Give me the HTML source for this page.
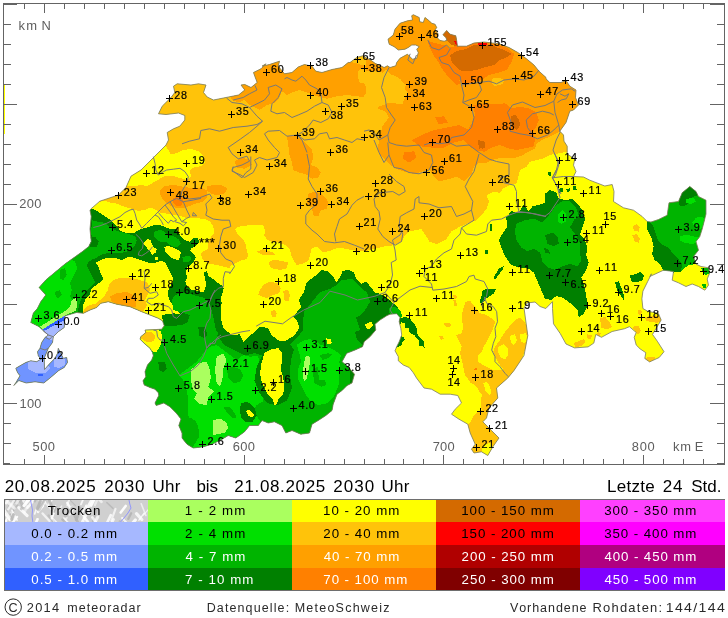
<!DOCTYPE html>
<html lang="de"><head><meta charset="utf-8"><title>meteoradar - Niederschlagssumme 24 Std.</title>
<style>
html,body{margin:0;padding:0;background:#fff;}
body{width:728px;height:618px;overflow:hidden;position:relative;font-family:"Liberation Sans",sans-serif;}
svg{position:absolute;left:0;top:0;display:block;}
text{font-family:"Liberation Sans",sans-serif;font-kerning:none;}
.ax{font-size:11.5px;fill:#5a5a5a;}
.st{font-size:10.8px;fill:#000;letter-spacing:0.6px;stroke:#000;stroke-width:0.2px;}
.lg{font-size:11.5px;text-anchor:middle;letter-spacing:0.5px;}
.hd{font-size:14.5px;fill:#000;letter-spacing:0.6px;}
.ft{font-size:11.5px;fill:#333;letter-spacing:0.5px;}
</style></head><body>
<svg width="728" height="618" viewBox="0 0 728 618">
<rect x="0" y="0" width="728" height="618" fill="#ffffff"/>
<defs><clipPath id="ch">
<polygon points="266,63.8 261,68.8 253.5,72.5 254.8,76.2 257.2,82.5 251,87.5 244.8,84.5 241,85 244.8,90 238.5,95 226,97.5 213.5,100 207.2,97 203.5,92.5 206,85 198.5,83.8 191,85 177.2,83.8 173.5,86.2 174.8,92.5 171,97.5 162.2,106.2 158.5,113.8 166,114.5 178.5,113 184.8,115.5 184.8,120 179.8,126.2 173.5,128.8 167.2,132.5 168.5,140 166,145 153.5,157.5 141,170 131,176.2 126,187.5 118.5,195 99.8,201.2 91,208.8 90,210.2 91.2,216.5 90,229 91.2,241.5 88.8,246.5 82.5,251.5 65,264 50,276.5 45.8,280 39.2,287.5 45.8,295 40.8,301.7 37.5,308.3 33.3,313.3 30.8,322.5 39.2,326.7 43.3,330.8 48.3,335 45,337.5 41.7,342.5 40,348.3 37.5,351.7 38.3,355.8 40.8,359.2 36.7,361.7 30.8,360.8 25.8,362.5 20,365.8 15.8,368.3 17.5,372.5 20,375.8 15.8,382.7 13.8,385.5 18.8,380.5 26.2,383 35,381.8 43.8,383 50,378 58.8,370.5 64.2,367.5 67.5,362.5 66.7,357.5 63.3,358.3 58.3,348.3 57.5,353.3 55,358.3 50,363.3 44.5,369.5 44.2,358.3 48.3,348.3 52.5,342.5 53.3,336.7 58.3,331.7 64.2,327.5 65,315.8 76.7,312.5 83.3,313.3 90,310 96.7,307.5 100.8,303.3 108.3,301.7 116.7,304.2 130,306.7 141.7,311.7 150,315 158.3,318.3 162.5,320.8 164.2,325.8 161.7,329.2 153.3,329.7 145,330 145.8,332.5 140.8,336.7 140,339.2 144.2,343.3 150,348.3 152.5,352.5 153.3,355.8 151.7,360 147.5,365 145,371.7 145.8,376.7 143,380.8 144.2,385 150,387.5 155,389.2 158.3,392.7 158.8,395.5 155,403 156.2,405.5 163.8,403 170,406.8 176.2,413 181,419 178.8,425.5 182,433 182,438 187,444.2 193.2,448 203.2,446.8 212,444.2 222,439.2 228.2,435.5 235.8,438 244.5,431.8 249.5,425.5 258.2,425.5 262,420.5 268.2,423 274.5,421.8 282,425.5 285.8,433 292,430.5 300.8,434.2 309.5,433 312,424.2 318.2,420.5 325.8,415.5 332,410.5 333.2,404.2 337,394.2 342,390.5 347,385.5 352,383 354.5,374.2 348.2,366.8 342,361.8 342.5,360.8 346.7,353.3 355,350 362.5,346.7 364.2,341.7 370,336.7 375.8,330 375,324.2 380,320 386.7,315.8 390,314.2 396.7,313.7 400,317.5 399.2,321.7 400.8,328.3 401.7,335 399.2,341.7 396.7,346.7 395,350.8 398.3,356.7 398.3,360.8 403.3,365 409.2,367.5 413.3,372.7 416.5,378 424,388 431.5,389.2 440.2,394.2 450.2,394.2 457.8,395.5 461.5,403 455.2,409.2 451.5,414.2 459,419.2 467.8,424.2 470.2,433 475.2,444.2 471.5,449.2 474,453 481.5,451.8 487.8,455.5 492.8,446.8 499,438 491.5,430.5 482.8,421.8 486.5,418 489,408 497.8,398 496.5,388 507.8,378 514,370.5 524,355.5 527.8,335.5 524,308 527,303 535,302 540,306.5 545.8,308.5 552.5,301.7 552.5,308.5 553.5,323.8 560.2,333.5 566,344 574.6,347.9 588.1,346.9 593.8,343.1 595.8,334.4 601.5,337.3 612.1,331.5 624.6,328.7 629.4,326.7 636.2,332.5 634.2,337.3 636.2,345 640,348.8 645.8,352.7 644.8,358.5 649.6,361.9 659.2,357.5 664,351.7 657.3,341.2 652.5,334.4 658.3,324.8 661.2,320 658.3,313.3 647.7,311.3 642.9,308.5 641.9,298.8 642.9,291.2 647.7,281.5 651.5,273.8 649.8,276.5 663.5,270.2 673.5,271.5 672.2,280.2 678.5,282.8 686,286.5 692.2,284 698.5,286.5 704.8,290.2 708.5,285.2 707.2,279 709.8,272.8 708.5,267.8 701,266.5 696,264 693.5,256.5 698.5,250.2 696,241.5 699.8,236.5 702.2,229 706,214 706,200.2 698.5,196.5 696,191.5 689.8,186.5 682.2,192.8 678.5,201.5 669,202.8 667.2,215.2 658.5,219.5 651,222 647.2,221.5 642.2,216.5 633.5,210.2 623.5,207.8 613.5,201.5 614,191.5 612.2,184.5 604.8,186 589.8,180.2 583.5,177 573.5,176.5 576,171.5 573.5,165.2 574.8,159 567.2,154 567.2,146.2 564,141.2 563.5,135 559.8,131.2 566,122.5 569.8,111.2 573.5,110 578.5,105 575.5,97.5 576,90 569.8,86.2 566,80.5 561,82.5 549.8,82.5 546,78.8 546,77.5 539,71.2 534,65 526.5,58.8 517.8,52.5 509,47.5 499,43.8 484,42 474,43 466.5,46.2 457.8,46.2 457.5,46.7 456.7,40.8 455.8,35.8 450,34.2 446.7,30.5 443,34.7 445.8,37.5 447,40.3 444.2,41.2 440,40.5 437,37.5 438,33.7 435,30 436.7,27.5 435,24.2 431.7,23.3 429.2,20.8 425,17.5 423.3,22.5 419.7,21.7 419.2,17.5 413.3,14.7 411.7,15.8 412.5,20 407.5,20.8 400,23.3 395,29.2 393.3,35 388,39.2 389.2,44.2 394.2,46.7 398.3,50 405,49.2 408.3,47.5 411.7,45 415.8,45 419.2,46.7 416.7,49.2 418.3,52.5 416.7,58.3 412.5,59.2 407.5,54.2 400,58.3 396.7,62.5 395.8,65.8 390,67.5 387.5,65.8 384.2,67.5 375,63.3 371.7,60.8 362.5,55.8 356.7,57.5 350,62.5 348.2,62.5 342,67.5 332,69.5 322,72.5 315.8,71.2 312,66.2 304.5,64.5 298.2,67 292,72.5 284.5,73.8 278.2,66.2 279.5,61.2 269.5,64.5 262,66.2"/>
</clipPath></defs>
<g shape-rendering="crispEdges">
<rect x="4" y="84" width="1" height="50" fill="#ffff00"/>
<g clip-path="url(#ch)">
<rect x="0" y="0" width="728" height="465" fill="#ffff00"/>
<polygon points="100,201.7 105,200.8 110,202.5 115,203.3 120,205 126.7,207.5 133.3,209.2 138.3,210.8 145,210 150,207.5 155,209.2 160,212.5 166.7,213.7 173.3,215 180,215.8 186.7,218.3 191.7,217.5 198.3,218.3 205,219.2 210,221.7 213.3,226.7 214.5,233.3 211.5,236 209,240 207.7,244 207.5,249.5 203,251 201,253.5 202,258 203.3,260 208.3,263.3 216.7,265 223.3,266.7 230,268.3 230,265.8 235,263.3 240,260.8 246.7,259.2 248.3,255 246.7,250 245.8,245 243.3,240 238.3,235 235,229.2 238.3,226.7 245,225.8 251.7,225 257.5,224.7 263.3,225 265,230 264.2,235.8 267.5,240 271.7,241.7 278.3,242.5 285,245 290,250 291.7,256.7 294.2,261.7 296.7,265 303.3,263.3 308.3,260.8 310,255 311.7,248.3 316.7,246.7 320,250 323.3,252.5 330,250.8 336.7,248.3 343.3,248.3 351,250 364,251.5 374,249 384,246.5 394,245.2 401.5,241.5 404,236.5 409,231.5 421.5,229 426.5,236.5 429,241.5 436.5,244 446.5,239 451.5,231.5 460.2,226.5 469,222.8 476.5,220.2 481.5,215.2 486.5,209 489,201.5 486.5,195.2 494,191.5 500,193 503.3,188.3 510,185 516.7,183.3 518.3,176.7 520,170 526.7,166.7 530,161.7 536.7,160 543.3,158.3 548.3,155.8 553.3,154.2 560,153.3 566.7,151.7 580,150 620,0 60,0 60,200" fill="#ffc30a"/>
<polygon points="166,146.2 171,154.5 177.2,153 183.5,150 191,148.8 198.5,151.2 203.5,156.2 204.8,162.5 201,166.2 194.8,167 189.8,170 191,176.2 187.2,180 179.8,178 172.2,175.5 166,175.5 159.8,178.8 153.5,182.5 147.2,186.2 141,185 134.8,186.2 128.5,186 120,190 100,160 150,130" fill="#ffff00"/>
<polygon points="256.7,251.7 263.3,249.2 273.3,252.5 275,255 263.3,255.3" fill="#ffc30a"/>
<polygon points="269.2,261.7 273.3,260 281.7,260.8 288.3,262.5 286.7,268.3 280,270 271.7,268.3 269.2,265" fill="#ffc30a"/>
<polygon points="263.3,285 270,281.7 278.3,283.3 280.8,288.3 279.2,293.3 273.3,295 266.7,298.3 258.3,295 260,290" fill="#ffc30a"/>
<polygon points="283.3,290.8 288.3,290 290,295 288.3,301.7 284.2,300" fill="#ffc30a"/>
<polygon points="366,71 375,71 382.5,72.5 386,70 390,73.8 395,76.2 400,78.8 402.5,82 405.6,85 405,90 407.5,92.5 406,96 403.8,100 402.5,104.4 397.5,103.8 392.5,102.5 387.5,103 383.8,105 378.8,106.2 377.5,108.8 382.5,110 386,112.5 388.8,117.5 385,122.5 382.5,126 381,132 379,140 378,148 379,154 389,164 396.5,169 404,171.5 414,174 421.5,171.5 429,169 434,176.5 439,181.5 449,179 456.5,176.5 464,181.5 471.5,174 474,166.5 478.3,163.3 486.7,162.5 495,159.2 503.3,157.5 513.3,158.3 521.7,155.8 528.3,151.7 535,148.3 536.7,143.3 543.3,139.2 550,136.7 556.7,133.3 560.8,130 600,120 600,0 366,0" fill="#ffa000"/>
<polygon points="364,53.8 364,97.5 357,96.2 347,95 337,96.2 327,98.8 317,96.2 307,92.5 299.5,90 292,92.5 287,95 282,91.2 279.5,97.5 274.5,102.5 267,105 259.5,110 254.5,107.5 249.5,105 244.5,100 238.2,102.5 232,100 229.5,95 239.5,75 257,50 307,50 368.3,66.7 361.7,68.3 358.3,71.7 358.3,78.3 360,83.3 364.2,86.7 365.8,91.7 363.3,95" fill="#ffa000"/>
<polygon points="358.8,82.5 363.8,83.1 366.2,87.5 365.6,93.8 362.5,97.5 358.8,96.9" fill="#ffa000"/>
<polygon points="287,136.2 294.5,135 302,140 307,145 312,150 313.2,157.5 310.8,165 317,167.5 320.8,172.5 318.2,177.5 312,178.8 307,175 299.5,172.5 293.2,170 292,162.5 289.5,155 288.2,145" fill="#ffa000"/>
<polygon points="308.2,194 314.5,191.5 322,194 328.2,201.5 327,209 320.8,210.2 318.2,216.5 313.2,215.2 312,207.8 307,204" fill="#ffa000"/>
<polygon points="234.5,161.2 242,157.5 249.5,160 252,165 244.5,168.8 237,167.5" fill="#ffa000"/>
<polygon points="160,190 165,185.8 175,185 183.3,186.7 191.7,188.3 200,187.5 206.7,190 207.5,196.7 203.3,201.7 196.7,203.3 190,205.8 183.3,208.3 176.7,208.3 170,205.8 163.3,200 160.3,195" fill="#ffa000"/>
<polygon points="206.7,186.7 213.3,185 221.7,185.3 227,188.3 225,193.3 218.3,195 211.7,194.2 207.5,190.8" fill="#ffa000"/>
<polygon points="173.3,198.3 177.5,196.3 182.5,197.5 183.3,202.5 180,206.3 175.8,205.8 173.3,202.5" fill="#ff8000"/>
<polygon points="473.3,105 485,103.3 495,104.2 505,103.3 511.7,108.3 520,106.7 528.3,108.3 535,111.7 538.3,118.3 536.7,125 533.3,131.7 535,140 533.3,146.7 525,148.3 516.7,150 508.3,148.3 500,145 491.7,147.5 485,151.7 476.7,150.8 470,146.7 463.3,140 466.7,131.7 471.7,123.3 475,115" fill="#ff8000"/>
<polygon points="510.8,115.8 515.8,115 519.2,120 520,125.8 516.7,130 513.3,127.5 510.8,122.5" fill="#d46a00"/>
<polygon points="479.2,141.7 484.2,140.8 485.3,145.8 482.5,148.7 479.2,147.5" fill="#d46a00"/>
<polygon points="446.5,55 450.2,47.5 459,45 474,42.5 494,43.8 506.5,47.5 514,53.8 511.5,62.5 506.5,70 499,72.5 489,75 481.5,80 471.5,82.5 461.5,82.5 454,75 449,65" fill="#ff8000"/>
<polygon points="450.2,55 456.5,51.2 466.5,48.8 474,45 484,43.8 494,46.2 504,50 511.5,53.8 506.5,57.5 499,60 494,65 484,67.5 476.5,70 469,71.2 461.5,71.2 455.2,66.2 451.5,61.2" fill="#d46a00"/>
<polygon points="442,33.8 446.5,29.5 451,33 457,35.5 458,46.2 451.5,45 446.5,40" fill="#d46a00"/>
<polygon points="454,40.5 457,41.5 457.5,45 455,44" fill="#ff0000"/>
<polygon points="477.8,43 486.5,42.5 487,45 478.5,45.5" fill="#ff0000"/>
<polygon points="411.5,140 421.5,135 434,130 446.5,127.5 459,125 469,130 464,140 454,142.5 444,147.5 431.5,147.5 419,146.2" fill="#ff8000"/>
<polygon points="427.5,40.8 433.3,42.5 440,44.2 445.8,45.8 450,49.2 448.3,55 450,61.7 453.3,68.3 458.3,75 460,83.3 456.7,85 451.7,80 446.7,75 441.7,68.3 438.3,61.7 433.3,55 430,48.3" fill="#ff8000"/>
<polygon points="404,152.5 414,151.2 416.5,157.5 409,162.5 402.8,158.8" fill="#ff8000"/>
<polygon points="527.8,115 536.5,112.5 539,120 535.2,128.8 527.8,127.5" fill="#ff8000"/>
<polygon points="435.2,117.5 444,116.2 447.8,122.5 439,124.5" fill="#ff8000"/>
<polygon points="491.5,78.8 499,77.5 504,80 502.8,83.8 495.2,86.2 491.5,83.8" fill="#ffc30a"/>
<polygon points="477.8,140 484,141.2 485.2,147.5 479,148.8" fill="#d46a00"/>
<polygon points="647.2,221 658.5,218.5 667.2,214 668,201.5 678.5,200.2 682.2,191.5 689.8,185.2 697.2,190.2 699.8,196.5 707.2,200.2 707.2,214 703.5,229 701,236.5 697.2,241.5 699.8,250.2 694.8,256.5 696,264 688.5,265.2 684.8,267.8 681,271.5 673.5,272.5 663.5,271 659.8,264 654.8,260.2 652.2,254 653.5,246.5 651,236.5 647.2,229" fill="#00b400"/>
<polygon points="682.2,191.5 689.8,185.2 697.2,190.2 698,195.2 692.2,197 689.8,201.5 686,205.2 679.8,206.5 678.5,200.2" fill="#008000"/>
<polygon points="647.2,221 652.2,224 655.2,231.5 657.2,239 661.5,244 668.5,247.8 673.5,254 677.2,257.8 682.2,264 681,271.5 673.5,272.5 663.5,271 659.8,264 654.8,260.2 652.2,254 653.5,246.5 651,236.5 647.2,229" fill="#008000"/>
<polygon points="696,217.8 702.2,216.5 704.8,220.2 703.5,226.5 699.8,229 694.8,226.5 692.2,222.8" fill="#00e000"/>
<polygon points="679.8,236.5 686,234.5 693.5,236.5 700.5,236.5 699,241.5 692.2,244 684.8,242.8 679.8,240.2" fill="#00e000"/>
<polygon points="686,199 693.5,197.8 696,201.5 691,204 686,202.8" fill="#00e000"/>
<polygon points="701,267.8 708.5,267.8 709,273.5 706,275.2 702.2,271.5" fill="#00b400"/>
<polygon points="702.2,284 706,284 706,287.8 703,287.8" fill="#00b400"/>
<polygon points="545,193.8 550,190 556.2,192.5 558.8,198.8 566.2,200 572.5,198.8 577.5,203.8 582.5,210 585,218.8 582.5,227.5 580,235 585,240 587.5,247.5 586.2,255 588.8,262.5 586.2,270 581.2,277.5 583.8,285 586.2,295 587.5,306.2 583.8,313.8 578.8,317.5 577.5,310 571.2,303.8 562.5,297.5 556.2,296.2 551.2,300 545,298.8 541.2,290 537.5,281.2 533.8,272.5 528.8,268.8 520,267.5 511.2,265 505,256.2 501.2,247.5 498.8,240 502.5,233.8 507.5,226.2 506.2,217.5 511.2,211.2 518.8,212.5 523.8,205 528.8,211.2 532.5,206.2 538.8,205 545,202.5" fill="#008000"/>
<polygon points="516.2,223.8 525,220 535,218.8 542.5,222.5 550,213.8 556.2,205 562.5,201.2 570,201.2 576.2,207.5 578.8,216.2 573.8,220 570,227.5 575,233.8 580,242.5 580,252.5 581.2,261.2 577.5,266.2 570,263.8 562.5,266.2 555,270 547.5,267.5 542.5,262.5 540,252.5 533.8,248.8 527.5,251.2 521.2,247.5 516.2,240 515,231.2" fill="#00b400"/>
<polygon points="557.5,215 562.5,210 566.2,213.8 566.2,221.2 561.2,223.8 557.5,221.2" fill="#00e000"/>
<polygon points="545,235 552.5,232.5 557.5,237.5 558.8,243.8 553.8,246.2 547.5,243.8" fill="#008000"/>
<polygon points="543.8,247.5 548.8,250 550,253.8 545,252.5" fill="#008000"/>
<polygon points="547.5,172.5 550.5,172 551.2,175.5 548.8,176.2" fill="#008000"/>
<polygon points="558.8,188.8 562.5,188 563,192 559.5,192.5" fill="#008000"/>
<polygon points="566.2,189.5 570,188 570.5,191 567,192" fill="#008000"/>
<polygon points="572.5,186.2 575.5,186.2 577,190 573.8,190.5" fill="#008000"/>
<polygon points="615,282.5 618.8,281.2 621.2,287.5 623.8,295 624.5,301.2 621.2,296.2 617.5,291.2" fill="#008000"/>
<polygon points="630,275.5 636.2,273.8 640,272 643.8,275 643,280 636.2,282.5 631.2,281.2" fill="#008000"/>
<polygon points="489.5,223.8 491.5,223.8 491.5,231.2 489.5,231.2" fill="#008000"/>
<polygon points="485,250 487.5,250 487.5,253.8 485,253.8" fill="#008000"/>
<polygon points="498.8,268.8 503.8,265.8 502.5,270 497.5,276.2 495,280 493.8,277" fill="#008000"/>
<polygon points="482.5,293.8 487.5,292.5 493.8,290.5 494.5,293 490,296.2 483.8,300 481.2,303.8 479.5,301.2" fill="#008000"/>
<polygon points="88,207 96.7,210.8 101.7,214.2 106.7,217.5 111.7,221 116.7,226 120,230.5 123.3,232 128.3,233.3 135,232.5 140,229.2 146.7,227.5 154.2,225 160,225.3 165,227 170,228.7 176.7,229.2 180,235 184.2,240 190,241.7 193.3,237.5 197.5,238.3 199.2,241.7 195.8,245.8 191.7,248 190.3,250.8 194.2,255 196,257.5 193.7,261.7 190.3,265 187,267.5 186,272.5 187,277.5 185.3,281.7 187,286.3 190.8,289.5 198.3,291.2 203.3,292.7 205.3,288.3 206.3,283.3 204.7,278.3 204.2,272.5 206.7,270.8 208.3,275.8 213.3,279.2 218.3,283.3 222.7,285.7 223.7,288.3 222.5,293.3 220.8,298.3 221.7,303.3 220.8,308.3 220.8,318 222,323 224.5,333 232,335.5 239.5,334.2 243.2,341.8 248.2,339.2 254.5,331.8 259.5,326.8 268.2,328 272,335.5 278.2,341.8 285.8,340.5 294.5,335.5 299.5,328 297,321 293,317 297,312 301.2,307.5 298.8,300 303.8,292.5 306.2,283.8 311.2,278.8 316.2,275 321.2,270 327.5,271.2 333.8,277.5 336.2,282.5 340,277.5 342.5,271.2 348.8,269.5 353.8,272.5 356.2,278.8 361.2,283.8 366.2,281.2 370,286.2 375,292.5 380,293.8 386.2,297.5 393.8,303.8 397.5,307.5 400.7,317.8 401.1,322.3 399,330 395,330 380,470 0,470 0,200" fill="#008000"/>
<polygon points="163,323 165,320.8 170,320 176.7,318.3 181.7,315 178.3,311.7 175,308.3 171.7,303.3 170,301.7 168.3,296.7 167.5,291.7 170,286.7 173.3,281.7 172.5,276.7 170,271.7 167.5,266.7 165,262.5 161.7,260.8 158.3,261.7 153.3,263.3 148.3,262.5 143.3,260.8 138.3,259.2 133.3,257.5 128.3,256.7 123.3,259.5 120,259.5 113.3,257.5 108.3,257.5 101.7,259.5 95.8,262.5 98.3,266.7 100,271.7 102.5,276.7 102.5,280 96.7,285 91.7,288.3 90,294.2 85.8,298.3 83.3,305 82.5,311.7 83,318 165,332" fill="#ffff00"/>
<polygon points="143.3,243.3 147.5,239.2 150.8,240 151.7,243.3 153.3,246.7 156.7,249.2 155.8,252.5 152.5,255 150,251.7 146.7,247.5" fill="#ffff00"/>
<polygon points="155,256.7 158.3,256.7 158.3,260 155,260" fill="#ffff00"/>
<polygon points="164.2,247.5 167.5,245.8 173.3,247.5 178.3,250 180.8,252.5 180,256.7 178.3,260 174.2,259.2 170,256.7 165.8,252.5" fill="#ffff00"/>
<polygon points="154.2,231.7 159.2,230 163.3,230.8 166.7,234.2 170,235.8 175,236.7 179.2,240 180.8,244.2 178.3,246.7 173.3,246.7 168.3,244.2 165.8,241.7 161.7,242.5 157.5,240 154.2,236.7" fill="#00b400"/>
<polygon points="182.5,257.5 186.7,255.8 190.8,256.7 190.8,260 187.5,262.5 183.3,261.7" fill="#00b400"/>
<polygon points="165,326 175,326 187,323 190,315 180,312 173,310 172,300 175,295 183,293 190,294 197,296 205,298 210,305 212,312 214,320 216,330 222,337 228,340 236,339 240,345 246,346 252,340 256,335 262,332 268,334 270,340 275,345 282,346 290,344 297,338 303,330 303,322 304,312 312,302 320,292 330,289 335,286 342,280 352,279 357,284 362,289 367,292 370,302 365,310 360,316 356,317 360,330 355,332 357,340 362,345 357,350 350,355 350,470 140,470 130,350 140,335 150,330 158,330" fill="#00b400"/>
<polygon points="179,375 190,366.7 196.7,361.7 203.3,353.3 210,346.7 216.7,345 223.3,350 230,355 236.7,360 243.3,355 250,356.7 258.3,355.8 259.2,365 258.3,375 260,385 264.2,395 262.5,401.7 256.7,405 252.5,411.7 258.3,418.3 262.5,425 262.5,473.3 150,473.3 180,453.3 191.7,448.3 195,443.3 199.2,436.7 198.3,426.7 195,420 189.2,418.3 187.5,411.7 188.3,403.3 187.5,395 185.8,386.7 183.3,380" fill="#00e000"/>
<polygon points="296.8,345 302.7,340.8 309.3,339.2 316,340.8 321,345 327.7,346.7 334.3,350 341,355 339.3,361.7 340.2,368.3 339,376.7 339.3,383.3 336,391.7 332.7,398.3 327.7,403.3 317.7,405 311,401.7 306,395 302.7,388.3 298.5,380 297.7,370 301,361.7 299.3,353.3" fill="#00e000"/>
<polygon points="312.7,370 317.7,366.7 318.5,375 319.3,380 325.2,380 326,385 321,386.7 314.3,383.3" fill="#00b400"/>
<polygon points="319.3,355 327.7,353.3 332.7,354.2 327.7,358.3 322.7,360" fill="#00b400"/>
<polygon points="305.2,356.7 309.3,355.8 310.2,361.7 308.5,370 306.8,378.3 304.3,381.7 302.7,376.7 303.5,366.7" fill="#aaff5f"/>
<polygon points="183.3,418.3 191.7,417.5 197.5,425 198.3,435 195,440.8 189.2,440 185,433.3 182.5,426.7" fill="#00b400"/>
<polygon points="223.3,406.7 230,407.5 235,413.3 236.7,418.3 232.5,417.5 227.5,413.3" fill="#00b400"/>
<polygon points="240.8,403.3 247.5,401.7 255,408.3 256.7,415.8 252.5,421.7 246.7,422.5 241.7,418.3 240,411.7" fill="#008000"/>
<polygon points="245.8,410.8 249.2,409.7 254.2,415 252.5,417.5 248.3,415.8" fill="#ffff00"/>
<polygon points="226.7,368.3 233.3,366.7 240,369.2 243.3,375 240,381.7 233.3,383.3 228.3,378.3" fill="#00b400"/>
<polygon points="190.8,370 198.3,363.3 206.7,361.7 210,370 210.8,378.3 208.3,386.7 214.2,391.7 208.3,397.5 206.7,405 200,404.2 194.2,398.3 196.7,393.3 192.5,388.3 190.8,380" fill="#aaff5f"/>
<polygon points="215,370 216.7,356.7 223.3,353.3 226.7,360 223.3,368.3 222.5,378.3 220,386.7 216.7,383.3" fill="#aaff5f"/>
<polygon points="213.3,420 220,418.7 225.8,421.7 228.3,427.5 225,432.5 218.3,434.2 212.5,435 213.3,427.5" fill="#aaff5f"/>
<polygon points="222,326.8 232,335.5 243.2,341.8 254.5,331.8 264.5,326.8 272,335.5 282,343 289.5,344.2 294,349.2 291.5,358 289.5,373 292,388 287,400.5 277,405.5 267,403 259.5,393 254.5,380.5 257,365.5 262,355.5 254.5,353 244.5,355.5 234.5,350.5 224.5,345.5 217,335.5" fill="#008000"/>
<polygon points="264.5,353 272,349.2 278.2,348 282,353 282,360.5 280.8,369.2 283.2,378 284.5,385.5 283.2,394.2 278.2,399.2 277,404.2 274,405 273.2,400 267,393 262,383 260,373 261.5,363" fill="#ffff00"/>
<polygon points="161.7,315 173.3,313.3 186.7,315 188.3,321.7 181.7,325 171.7,324.2 163.3,323.3" fill="#008000"/>
<polygon points="198.3,326.7 205,327.5 207.5,335 204.2,338.3 199.2,335.8" fill="#008000"/>
<polygon points="158.3,361.7 165,362.5 166.7,368.3 163.3,372.5 159.2,370" fill="#008000"/>
<polygon points="138.3,328.3 150,328.3 156.7,329.2 161.3,331.7 162,338.3 161,344.2 158.7,348.7 156,352.5 151.7,350.8 146.7,345.8 141.7,340.8 138.3,338.3" fill="#ffff00"/>
<polygon points="140.8,334.2 146.7,331.7 152.5,332.5 155.3,335.8 154.2,340.8 149.2,342.5 144.2,340.8 140,337.5" fill="#ffc30a"/>
<polygon points="326,338.3 331,339.2 331.8,343.3 327.7,344.2" fill="#ffff00"/>
<polygon points="365.2,324.2 371,321.7 373.5,325 369.3,329.2 366,328.3" fill="#ffff00"/>
<polygon points="271,311.7 274.3,309.7 276.8,313.3 275.2,317.5 271.8,316.7" fill="#ffc30a"/>
<polygon points="92,220 93,221 100,222 105,223 110,227 115,230 120,232 125,233 130,234.5 135,236 136.7,240 135,245 131.7,249.2 126.7,251.7 120,253 113.3,253.3 108.3,253 101.7,254.7 96.7,257.5 92,259.7 88,262 87,266 90,272 93,278 95,282 92,286 88,289 85,294 82,298 79,305 78,312 30,330 30,283 40,273.3 71.7,258.3 80,251.7 88.3,246.7 92,238.3 90.8,230 92.5,221.7" fill="#00b400"/>
<polygon points="90,236.7 95.8,237.5 98.7,241.7 96.7,246.7 91.7,247.5 88.3,245" fill="#008000"/>
<polygon points="45.8,280 51.7,270 60,261.7 68.3,258.3 75,261.7 77.5,268.3 74.2,275 70,283.3 71.7,290 70,296.7 72.5,300 76.7,305 75.8,310.8 68.3,314.2 65,315.8 42.5,329.5 26.7,322.5 26.7,280" fill="#00e000"/>
<polygon points="55,291.7 60,290 61.7,295 58.3,298.3 55.8,296.7" fill="#00b400"/>
<polygon points="60,270 65,268.3 66.7,275 63.3,280 60,278.3" fill="#00b400"/>
<polygon points="40,326.7 51.7,319.2 60,314.2 66.7,310 70.8,305 71.7,300 75.8,298.3 77.5,305 75.8,310.8 68.3,313.8 65,315.8 42.5,329.5" fill="#aaff5f"/>
<polygon points="42.5,329.5 65,315.3 80,323.3 80,388.3 6.7,388.3 6.7,350 35,335" fill="#7094ff"/>
<polygon points="42.7,329.3 48.3,325.8 55,321.7 61.7,317.5 65.3,316 64.7,320.3 58.3,323.3 51.7,326.7 45.8,330.3" fill="#3060ff"/>
<polygon points="45.8,330.3 51.7,326.7 58.3,323.3 64.7,320.3 64.7,327.5 58.3,332 53.3,337 52.5,340.8 47.5,338.3 44.2,334.2 43.3,331.3" fill="#a6b8ff"/>
<polygon points="27.5,361.8 37.5,359.2 46.2,361.8 50,368 45,373.5 35,372.5 28,369.2" fill="#a6b8ff"/>
<polygon points="53.8,359.2 58.8,356.8 65.5,359.2 64.5,365 58.8,368 53.8,366.8" fill="#a6b8ff"/>
<polygon points="37.5,374.2 42.5,373.5 43,376 38,376.5" fill="#3060ff"/>
<polygon points="83,312 85,308 90,305 96.7,303.3 100,300 105,295 108,290 109,284 113,280 120,278 130,277.5 140,280 148,283 150,290 147,296 145,300 147,305 142,314 130,310 116.7,307 108,305 100,306 90,312 84,318" fill="#ffc30a"/>
<polygon points="110,296.7 116.7,293.3 126.7,291.7 133.3,295 136.7,300 135.8,306.7 130,307 123.3,305 116.7,304 111.7,301.5" fill="#ffa000"/>
<polygon points="465.8,301.7 470,300.8 475,306.7 480,313.3 486.7,315 491.7,318.3 495,321.7 493.3,328.3 490,335 486.7,341.7 483.3,348.3 480,355 477.5,361.7 483.3,365 490,368.3 496.7,371.7 503.3,375 506.7,376.7 501.7,383.3 496.7,388.3 493.3,393 480,393 476.7,386.7 470,381.7 465,375 463.3,366.7 461.7,360 460,353.3 461.7,346.7 458.3,340 455.8,335 461.7,333.3 463.3,326.7 461.7,320 462.5,311.7 464.2,305.8" fill="#ffc30a"/>
<polygon points="498.3,393 506.7,376.7 513.3,375 520,363.3 525,350 530,338.3 528.3,328.3 524.2,321.7 520,317.5 515,320 510,325.8 505,331.7 500,340 495,346.7 493.3,351.7 495.8,358.3 500,365 505,371.7" fill="#ffc30a"/>
<polygon points="498.3,346.7 503.3,344.2 507.5,348.3 508.3,355 505,359.2 500.8,357.5 498.3,352.5" fill="#ffff00"/>
<polygon points="520,334.2 525.8,333.3 527.5,338.3 525,343.3 520.8,341.7" fill="#ffff00"/>
<polygon points="510,335.8 515,334.2 517,340 514.2,345 510.8,342.5" fill="#ffff00"/>
<polygon points="477.5,356.7 481.7,351.7 484.2,345 486.7,346.7 485,353.3 481.7,360 479.2,363.3" fill="#ffff00"/>
<polygon points="443.3,323 448.3,322.5 451.7,324.7 450,327 445,326.3" fill="#ffc30a"/>
<polygon points="439.2,336.3 442.5,335.8 443.7,338.7 440.8,340" fill="#ffc30a"/>
<polygon points="452.5,295.3 456.3,295 457,298.3 454.2,298.7" fill="#ffc30a"/>
<polygon points="453.3,300.3 455.8,300 457,305.8 454.7,306.7" fill="#ffc30a"/>
<polygon points="473.7,368.7 476.7,368.3 477,371.3 474.2,371.7" fill="#ff8000"/>
<polygon points="463.3,370 468.3,376.7 470,383.3 476.7,380 480,386.7 481.7,395 480.8,403.3 481.7,410 477.5,412.5 473.3,416.7 470,423.3 465,425 468.3,436.7 470,453.3 520,453.3 520,370 493.3,370 493.3,376.7 490,381.7 486.7,378.3 483.3,373.3 480,370" fill="#ffc30a"/>
<polygon points="481.7,448.7 485,443.7 491.7,443.3 494.2,450 493.3,458.3 483.3,458.3" fill="#ffff00"/>
<polygon points="483.3,383.3 486.7,381.7 490,386.7 491.7,393.3 489.2,395 485.8,391.7" fill="#ffff00"/>
<polygon points="481.7,291.7 485,289.2 495.8,289.2 493.3,294.2 486.7,296.7 484.2,301.7 480.8,303.3 481.7,296.7" fill="#008000"/>
<polygon points="599.6,318.1 605.4,317.1 609.2,321.9 612.1,326.7 607.3,329.6 601.5,327.7 600.6,322.9" fill="#ffc30a"/>
<polygon points="638.1,309.4 641.9,310.8 641,315.2 638.5,314.2" fill="#ffc30a"/>
<polygon points="643.8,317.1 649.6,316.2 655.4,315.2 660.2,317.1 661.2,321 657.3,322.9 651.5,321.9 646.7,321" fill="#ffc30a"/>
<polygon points="632.3,326.7 638.1,325.8 641,330.6 638.1,334.4 635.2,331.5" fill="#ffc30a"/>
<polygon points="573.7,343.1 578.5,341.2 584.2,339.2 585.2,342.1 581.3,346 575.6,347.3" fill="#ffc30a"/>
<polygon points="587.1,334.4 591.9,335.4 591,339.2 587.1,338.3" fill="#ffc30a"/>
<polygon points="644.8,358.5 649.6,356.5 655.4,357.5 653.5,360.4 649.6,362.3" fill="#ffc30a"/>
<polygon points="597.7,331.5 600.6,333.5 599.6,336.3 597.3,335" fill="#ffc30a"/>
<polygon points="633,226.5 636.5,224 640,227 638.5,231.5 634,231" fill="#ffc30a"/>
<polygon points="632.2,235.2 637.2,234 639.8,239 638.5,242.8 634.8,241.5" fill="#ffc30a"/>
<polygon points="400.7,317.8 406.5,316.9 410.6,319.4 412.3,322.3 414.8,324.8 416.8,328.9 416.8,333.1 418.1,335.5 420.5,338 423.8,341.3 424.3,346.3 425.1,347.9 423.8,347.5 422.6,345.9 418.9,345.5 418.5,343 419.3,340.5 416.4,338.4 414.8,335.5 411.4,333.9 409,331 408.6,328.5 404.8,327.3 404.8,323.6 401.1,322.3 398,320" fill="#008000"/>
<polygon points="401.5,336.4 404,336.8 404.8,339.7 402.8,341.3 401.9,345 399,346.7 396.6,347.9 394,349 396,342 398,336" fill="#008000"/>
<polygon points="389,308 393,306.5 398,308 401,312 402.4,317 400,318 396,314 392,314.5 389,313" fill="#00b400"/>
</g>
<polygon points="266,63.8 261,68.8 253.5,72.5 254.8,76.2 257.2,82.5 251,87.5 244.8,84.5 241,85 244.8,90 238.5,95 226,97.5 213.5,100 207.2,97 203.5,92.5 206,85 198.5,83.8 191,85 177.2,83.8 173.5,86.2 174.8,92.5 171,97.5 162.2,106.2 158.5,113.8 166,114.5 178.5,113 184.8,115.5 184.8,120 179.8,126.2 173.5,128.8 167.2,132.5 168.5,140 166,145 153.5,157.5 141,170 131,176.2 126,187.5 118.5,195 99.8,201.2 91,208.8 90,210.2 91.2,216.5 90,229 91.2,241.5 88.8,246.5 82.5,251.5 65,264 50,276.5 45.8,280 39.2,287.5 45.8,295 40.8,301.7 37.5,308.3 33.3,313.3 30.8,322.5 39.2,326.7 43.3,330.8 48.3,335 45,337.5 41.7,342.5 40,348.3 37.5,351.7 38.3,355.8 40.8,359.2 36.7,361.7 30.8,360.8 25.8,362.5 20,365.8 15.8,368.3 17.5,372.5 20,375.8 15.8,382.7 13.8,385.5 18.8,380.5 26.2,383 35,381.8 43.8,383 50,378 58.8,370.5 64.2,367.5 67.5,362.5 66.7,357.5 63.3,358.3 58.3,348.3 57.5,353.3 55,358.3 50,363.3 44.5,369.5 44.2,358.3 48.3,348.3 52.5,342.5 53.3,336.7 58.3,331.7 64.2,327.5 65,315.8 76.7,312.5 83.3,313.3 90,310 96.7,307.5 100.8,303.3 108.3,301.7 116.7,304.2 130,306.7 141.7,311.7 150,315 158.3,318.3 162.5,320.8 164.2,325.8 161.7,329.2 153.3,329.7 145,330 145.8,332.5 140.8,336.7 140,339.2 144.2,343.3 150,348.3 152.5,352.5 153.3,355.8 151.7,360 147.5,365 145,371.7 145.8,376.7 143,380.8 144.2,385 150,387.5 155,389.2 158.3,392.7 158.8,395.5 155,403 156.2,405.5 163.8,403 170,406.8 176.2,413 181,419 178.8,425.5 182,433 182,438 187,444.2 193.2,448 203.2,446.8 212,444.2 222,439.2 228.2,435.5 235.8,438 244.5,431.8 249.5,425.5 258.2,425.5 262,420.5 268.2,423 274.5,421.8 282,425.5 285.8,433 292,430.5 300.8,434.2 309.5,433 312,424.2 318.2,420.5 325.8,415.5 332,410.5 333.2,404.2 337,394.2 342,390.5 347,385.5 352,383 354.5,374.2 348.2,366.8 342,361.8 342.5,360.8 346.7,353.3 355,350 362.5,346.7 364.2,341.7 370,336.7 375.8,330 375,324.2 380,320 386.7,315.8 390,314.2 396.7,313.7 400,317.5 399.2,321.7 400.8,328.3 401.7,335 399.2,341.7 396.7,346.7 395,350.8 398.3,356.7 398.3,360.8 403.3,365 409.2,367.5 413.3,372.7 416.5,378 424,388 431.5,389.2 440.2,394.2 450.2,394.2 457.8,395.5 461.5,403 455.2,409.2 451.5,414.2 459,419.2 467.8,424.2 470.2,433 475.2,444.2 471.5,449.2 474,453 481.5,451.8 487.8,455.5 492.8,446.8 499,438 491.5,430.5 482.8,421.8 486.5,418 489,408 497.8,398 496.5,388 507.8,378 514,370.5 524,355.5 527.8,335.5 524,308 527,303 535,302 540,306.5 545.8,308.5 552.5,301.7 552.5,308.5 553.5,323.8 560.2,333.5 566,344 574.6,347.9 588.1,346.9 593.8,343.1 595.8,334.4 601.5,337.3 612.1,331.5 624.6,328.7 629.4,326.7 636.2,332.5 634.2,337.3 636.2,345 640,348.8 645.8,352.7 644.8,358.5 649.6,361.9 659.2,357.5 664,351.7 657.3,341.2 652.5,334.4 658.3,324.8 661.2,320 658.3,313.3 647.7,311.3 642.9,308.5 641.9,298.8 642.9,291.2 647.7,281.5 651.5,273.8 649.8,276.5 663.5,270.2 673.5,271.5 672.2,280.2 678.5,282.8 686,286.5 692.2,284 698.5,286.5 704.8,290.2 708.5,285.2 707.2,279 709.8,272.8 708.5,267.8 701,266.5 696,264 693.5,256.5 698.5,250.2 696,241.5 699.8,236.5 702.2,229 706,214 706,200.2 698.5,196.5 696,191.5 689.8,186.5 682.2,192.8 678.5,201.5 669,202.8 667.2,215.2 658.5,219.5 651,222 647.2,221.5 642.2,216.5 633.5,210.2 623.5,207.8 613.5,201.5 614,191.5 612.2,184.5 604.8,186 589.8,180.2 583.5,177 573.5,176.5 576,171.5 573.5,165.2 574.8,159 567.2,154 567.2,146.2 564,141.2 563.5,135 559.8,131.2 566,122.5 569.8,111.2 573.5,110 578.5,105 575.5,97.5 576,90 569.8,86.2 566,80.5 561,82.5 549.8,82.5 546,78.8 546,77.5 539,71.2 534,65 526.5,58.8 517.8,52.5 509,47.5 499,43.8 484,42 474,43 466.5,46.2 457.8,46.2 457.5,46.7 456.7,40.8 455.8,35.8 450,34.2 446.7,30.5 443,34.7 445.8,37.5 447,40.3 444.2,41.2 440,40.5 437,37.5 438,33.7 435,30 436.7,27.5 435,24.2 431.7,23.3 429.2,20.8 425,17.5 423.3,22.5 419.7,21.7 419.2,17.5 413.3,14.7 411.7,15.8 412.5,20 407.5,20.8 400,23.3 395,29.2 393.3,35 388,39.2 389.2,44.2 394.2,46.7 398.3,50 405,49.2 408.3,47.5 411.7,45 415.8,45 419.2,46.7 416.7,49.2 418.3,52.5 416.7,58.3 412.5,59.2 407.5,54.2 400,58.3 396.7,62.5 395.8,65.8 390,67.5 387.5,65.8 384.2,67.5 375,63.3 371.7,60.8 362.5,55.8 356.7,57.5 350,62.5 348.2,62.5 342,67.5 332,69.5 322,72.5 315.8,71.2 312,66.2 304.5,64.5 298.2,67 292,72.5 284.5,73.8 278.2,66.2 279.5,61.2 269.5,64.5 262,66.2" fill="none" stroke="#7a7a6a" stroke-width="0.8" shape-rendering="auto"/>
<polyline points="226.5,98 232,102.5 242,103.8 249.5,107.5 257,116.2 262.5,121.2 257,124.5 247,126.2 233.2,127.5 219.5,131.2 209.5,128.8 200.8,130.5 199.5,138.8 189.5,141.2 182,143.8" fill="none" stroke="#787878" stroke-width="1" shape-rendering="auto"/>
<polyline points="262.5,121.2 257,126.2 249.5,132.5 240.8,138.8 228.2,147.5 232,153.8 238.2,158.8 247,156.2 249.5,161.2 242,165 233.2,167.5 232,171.2 240.8,175 244.5,177.5 253.2,172.5 257,165 254.5,160 259.5,157.5 267,160 277,157.5 279.5,152.5 274.5,147.5 268.2,140 264.5,133.8 268.2,131.2 279.5,130.5 287,136.2 297,135" fill="none" stroke="#787878" stroke-width="1" shape-rendering="auto"/>
<polyline points="255,85.5 257,90 249.5,93.8 243.2,97.5 233.2,100" fill="none" stroke="#787878" stroke-width="1" shape-rendering="auto"/>
<polyline points="284.5,78.8 287,77.5 292,80 295.8,81.2 302,76.2 305.8,80 309.5,85 317,88.8 320.8,93.8 322,102.5 314.5,106.2 307,111.2 298.2,115 292,117.5 284.5,112.5 277,113.8 270.8,111.2 272,103.8 278.2,97.5 282,88.8 275.8,85 268.2,87.5 269.5,93.8 264.5,100 257,103.8 249.5,107.5" fill="none" stroke="#787878" stroke-width="1" shape-rendering="auto"/>
<polyline points="322,102.5 328.2,105 332,112.5 328.2,118.8 320.8,122.5 313.2,120 309.5,125 302,132.5 297,135 302,140 307,152.5" fill="none" stroke="#787878" stroke-width="1" shape-rendering="auto"/>
<polyline points="297,135 304.5,140 314.5,138.8 319.5,133.8 327,132.5 329.5,138.8 337,137.5 344.5,140 352,142.5 357,138.8 364,140" fill="none" stroke="#787878" stroke-width="1" shape-rendering="auto"/>
<polyline points="389,67.5 384,77.5 381.5,87.5 385.2,97.5 386.5,107.5 391.5,115 395.2,120 390.2,127.5 387.8,135 389,142.5 396.5,145 406.5,146.2 419,145 424,152.5 431.5,155 432.8,162.5 429,170 419,173.8 409,172.5 401.5,168.8 394,167.5 389,155 387.8,142.5" fill="none" stroke="#787878" stroke-width="1" shape-rendering="auto"/>
<polyline points="387.8,135 379,140 374,132.5 369,130 364,131.2" fill="none" stroke="#787878" stroke-width="1" shape-rendering="auto"/>
<polyline points="389,155 384,162.5 379,152.5 374,140" fill="none" stroke="#787878" stroke-width="1" shape-rendering="auto"/>
<polyline points="427.8,40 431.5,47.5 439,50 446.5,45 450.2,48.8 446.5,55 439,57.5 441.5,62.5 449,65 454,72.5 460.2,76.2 461.5,85 464,95 462.8,102.5 471.5,107.5 474,117.5 471.5,127.5 464,135 451.5,137.5 449,142.5 439,143.8 431.5,142.5 424,145" fill="none" stroke="#787878" stroke-width="1" shape-rendering="auto"/>
<polyline points="461.5,85 469,83.8 479,82.5 489,81.2 496.5,83.8 504,80 514,78.8 524,80 534,76.2 539,70" fill="none" stroke="#787878" stroke-width="1" shape-rendering="auto"/>
<polyline points="479,82.5 481.5,90 476.5,97.5 469,100 462.8,102.5" fill="none" stroke="#787878" stroke-width="1" shape-rendering="auto"/>
<polyline points="449,142.5 456.5,146.2 469,145 479,152.5 481.5,154" fill="none" stroke="#787878" stroke-width="1" shape-rendering="auto"/>
<polyline points="410.2,53.8 407.8,60 412.8,63.8 416.5,55" fill="none" stroke="#787878" stroke-width="1" shape-rendering="auto"/>
<polyline points="389,174 396.5,181.5 404,186.5 405.2,191.5 399,195.2 392.8,191.5 379,192.8 374,199 375.2,206.5 379,211.5 380.2,219 377.8,229 382.8,236.5 389,241.5 395.2,245.2 401.5,241.5 402.8,234 399,226.5 400.2,216.5 406.5,212.8 414,209 415.2,199 419,196.5 419,202.8 429,204 439,207.8 451.5,206.5 456.5,216.5 464,214 471.5,210.2 474,220.2 461.5,227.8 460.2,234 454,240.2 451.5,249 444,252.8 436.5,259 431.5,266.5 425.2,269 424,276.5 431.5,284 432.8,290.2" fill="none" stroke="#787878" stroke-width="1" shape-rendering="auto"/>
<polyline points="471.5,210.2 472.8,201.5 465.2,186.5 469,179 474,171.5 479,154" fill="none" stroke="#787878" stroke-width="1" shape-rendering="auto"/>
<polyline points="461.5,227.8 466.5,234 476.5,235.2 486.5,231.5 487.8,224 491.5,220.2 501.5,219 509,215.2 519,211.5 529,212.8 539,215.2 546,216.5" fill="none" stroke="#787878" stroke-width="1" shape-rendering="auto"/>
<polyline points="519,211.5 516.5,201.5 516.5,191.5 514,185.2 504,182.8 500.2,177.8 509,175.2 509,164 496.5,161.5 489,159 481.5,154" fill="none" stroke="#787878" stroke-width="1" shape-rendering="auto"/>
<polyline points="432.8,290.2 444,289 456.5,286.5 466.5,281.5 469,276.5 474,275.2 475.2,279 484,281.5 487.8,289 486.5,296.5 481.5,304 482.8,308" fill="none" stroke="#787878" stroke-width="1" shape-rendering="auto"/>
<polyline points="307,154 309.5,166.5 308.2,179 312,186.5 317,194 317,204 309.5,210.2 305.8,215.2 305.8,224 312,230.2 317,234 324.5,241.5 334.5,242.8 344.5,241.5 354.5,245.2 364,249" fill="none" stroke="#787878" stroke-width="1" shape-rendering="auto"/>
<polyline points="364,196.5 357,200.2 352,205.2 347,214 339.5,219 337,226.5 334.5,234 335.8,241.5" fill="none" stroke="#787878" stroke-width="1" shape-rendering="auto"/>
<polyline points="233.2,166.5 232,170.2 242,177.8 245.8,172.8 250.8,169 250.8,156.5" fill="none" stroke="#787878" stroke-width="1" shape-rendering="auto"/>
<polyline points="182,196.5 189.5,199 199.5,197.8 209.5,194 212,197.8 205.8,204 207,210.2 205.8,215.2 213.2,219 222,220.2 229.5,220.2 230.8,226.5 223.2,229 220.8,236.5 219.5,245.2 220.8,252.8 225.8,259 232,261.5 234.5,266.5 229.5,274" fill="none" stroke="#787878" stroke-width="1" shape-rendering="auto"/>
<polyline points="93.3,227.5 100,225.8 106.7,223.3 113.3,220 120,216.7 125,212.5 130,210 133.3,209.2 135,213.3 136.7,220 140,225 141.7,228.3 146.7,223.3 151.7,218.3 155,215 158.3,216.7 161.7,221.7 163.3,225" fill="none" stroke="#787878" stroke-width="1" shape-rendering="auto"/>
<polyline points="155,215 160,210 165,205 170,201.7 176.7,198.3 180,200 183.3,201.7 193.3,200 201,198.3" fill="none" stroke="#787878" stroke-width="1" shape-rendering="auto"/>
<polyline points="180,200 181.7,191.7 186.7,183.3 188.3,176.7 185,171.7 180,168.3 173.3,169.2 166.7,170 163.3,171.7 158.3,175 155.8,170 155,163.3 153.3,156.7" fill="none" stroke="#787878" stroke-width="1" shape-rendering="auto"/>
<polyline points="165,205 170,211.7 173.3,216.7 176.7,220 173.3,221.7 170.8,220 168.3,223.3 163.3,218.3 158.3,212.5" fill="none" stroke="#787878" stroke-width="1" shape-rendering="auto"/>
<polyline points="170,201.7 176.7,213.3 181.7,221.7 186.7,222.5 183.3,225.8 180,223.3 175,221.7" fill="none" stroke="#787878" stroke-width="1" shape-rendering="auto"/>
<polyline points="183.3,201.7 186.7,210 190,216.7 186.7,218.3 181.7,221.7" fill="none" stroke="#787878" stroke-width="1" shape-rendering="auto"/>
<polyline points="193.3,212.5 196.7,215.8 192.5,215.8 193.3,212.5" fill="none" stroke="#787878" stroke-width="1" shape-rendering="auto"/>
<polyline points="135.8,234.2 140,238.3 143.3,243.3 142.5,248.3 139.2,251.7 138.3,255 141.7,255.8 145.8,253.3 150,250 152.5,246.7" fill="none" stroke="#787878" stroke-width="1" shape-rendering="auto"/>
<polyline points="144.2,270.8 145,278.3 144.2,288.3 148.3,287.5 151.7,283.3" fill="none" stroke="#787878" stroke-width="1" shape-rendering="auto"/>
<polyline points="144.2,288.3 150,293.3 156.7,291.7 158.3,295 153.3,298.3 148.3,298.3 146.7,301.7 151.7,305 158.3,303.3 163.3,305 168.3,306.7 171.7,310 173.3,316.7 176.7,318.3 180,315 183.3,311.7 190,310 196.7,306.7 203.3,303.3 210,300 213.3,293.3 218.3,288.3 223.3,286.7 223.3,278.3 225,271.7 231,272.5" fill="none" stroke="#787878" stroke-width="1" shape-rendering="auto"/>
<polyline points="515,212.5 525,212.5 535,213.8 545,216.2 550,212.5 555,205 560,197.5 557.5,187.5 552.5,177.5 556.2,170" fill="none" stroke="#787878" stroke-width="1" shape-rendering="auto"/>
<polyline points="554.8,154 558.5,161.5 556,171.5 552.2,177.8 557.2,186.5 561,194" fill="none" stroke="#787878" stroke-width="1" shape-rendering="auto"/>
<polyline points="552.2,177.8 563.5,176.5 573.5,176.5" fill="none" stroke="#787878" stroke-width="1" shape-rendering="auto"/>
<polyline points="484.2,296.7 486.7,303.3 493.3,306.7 496.7,311.7 497.5,321.7 495,328.3 495.8,336.7 493.3,343.3 491.7,350 495,356.7 495,361.7 500,366.7 505,373.3 508.3,376.7" fill="none" stroke="#787878" stroke-width="1" shape-rendering="auto"/>
<polyline points="256.2,326.2 265,321.2 282.5,323.8 291.2,317.5 303.8,310 320,302.5 330,291.2 345,295 357.5,300 375,296.2 385,292.5 390,285 392.5,275 391.2,262.5 396.2,260 395,250 392.5,240 400,235 402.5,230" fill="none" stroke="#787878" stroke-width="1" shape-rendering="auto"/>
<polyline points="385,292.5 393.8,302.5 400,297.5 410,290 420,286.2 432,287.5" fill="none" stroke="#787878" stroke-width="1" shape-rendering="auto"/>
<polyline points="393.8,302.5 390,310 392.5,313.8" fill="none" stroke="#787878" stroke-width="1" shape-rendering="auto"/>
<polyline points="207,348 214.5,340.5 222,336.8 232,334.2 242,331.8 250,330.5" fill="none" stroke="#787878" stroke-width="1" shape-rendering="auto"/>
<polyline points="180,375.8 173.3,365 166.7,353.3 164.2,345 163.3,340 160,340 157.5,336.7 156.7,330.8 153.3,330" fill="none" stroke="#787878" stroke-width="1" shape-rendering="auto"/>
<polyline points="180,375.8 190,371.7 198.3,365 203.3,356.7 206.7,348.3 210,343.3 215,343.3 216.7,338.3 221,335" fill="none" stroke="#787878" stroke-width="1" shape-rendering="auto"/>
<polyline points="206.7,348.3 205,340 204.2,331.7 206.7,323.3 210,318.3 210.8,310 209.2,303.3 211.7,296.7 215,290" fill="none" stroke="#787878" stroke-width="1" shape-rendering="auto"/>
<polyline points="43.3,330.8 48.3,335 53.3,336.7" fill="none" stroke="#787878" stroke-width="1" shape-rendering="auto"/>
<polyline points="45.8,337.5 49.2,339.2 51.7,337.5" fill="none" stroke="#787878" stroke-width="1" shape-rendering="auto"/>
<polyline points="40,348.3 45,350 48.3,348.3" fill="none" stroke="#787878" stroke-width="1" shape-rendering="auto"/>
<polyline points="507.5,112.5 512.5,105 522.5,102 535,107.5 545,105.5 553.8,101.2 557,93.8 562.5,90 571.2,88.8 575,91.2" fill="none" stroke="#787878" stroke-width="1" shape-rendering="auto"/>
<polyline points="553.8,101.2 555,112.5 558.8,125 560,132.5" fill="none" stroke="#787878" stroke-width="1" shape-rendering="auto"/>
<polyline points="507.5,112.5 511.2,122.5 510,131.2 520,133.8 530,135.5 537.5,138.8 547.5,135 553.8,130 558.8,125" fill="none" stroke="#787878" stroke-width="1" shape-rendering="auto"/>
<polyline points="526.2,120 532.5,113.8 542.5,111.2 550,113 553.8,115" fill="none" stroke="#787878" stroke-width="1" shape-rendering="auto"/>
<polyline points="526.2,120 527.5,127.5 532.5,134.5" fill="none" stroke="#787878" stroke-width="1" shape-rendering="auto"/>
<polyline points="560,93.8 565,96.2 568.8,93.8 566.2,98.8 561.2,100 557.5,102.5" fill="none" stroke="#787878" stroke-width="1" shape-rendering="auto"/>
<polyline points="560,132.5 556.2,140 553,150 556.2,157.5 558.8,165 555.5,175 553.8,177.5" fill="none" stroke="#787878" stroke-width="1" shape-rendering="auto"/>
</g>
<g fill="#646464" shape-rendering="crispEdges">
<rect x="3" y="3" width="722" height="1"/>
<rect x="3" y="464" width="722" height="1"/>
<rect x="3" y="3" width="1" height="462"/>
<rect x="724" y="3" width="1" height="462"/>
<rect x="3" y="4" width="14" height="1"/>
<rect x="710" y="4" width="14" height="1"/>
<rect x="3" y="463" width="7" height="1"/>
<rect x="717" y="463" width="7" height="1"/>
<rect x="24" y="4" width="1" height="5"/>
<rect x="24" y="459" width="1" height="5"/>
<rect x="44" y="4" width="1" height="9"/>
<rect x="44" y="455" width="1" height="9"/>
<rect x="64" y="4" width="1" height="5"/>
<rect x="64" y="459" width="1" height="5"/>
<rect x="84" y="4" width="1" height="5"/>
<rect x="84" y="459" width="1" height="5"/>
<rect x="104" y="4" width="1" height="5"/>
<rect x="104" y="459" width="1" height="5"/>
<rect x="124" y="4" width="1" height="5"/>
<rect x="124" y="459" width="1" height="5"/>
<rect x="144" y="4" width="1" height="5"/>
<rect x="144" y="459" width="1" height="5"/>
<rect x="164" y="4" width="1" height="5"/>
<rect x="164" y="459" width="1" height="5"/>
<rect x="184" y="4" width="1" height="5"/>
<rect x="184" y="459" width="1" height="5"/>
<rect x="204" y="4" width="1" height="5"/>
<rect x="204" y="459" width="1" height="5"/>
<rect x="224" y="4" width="1" height="5"/>
<rect x="224" y="459" width="1" height="5"/>
<rect x="244" y="4" width="1" height="9"/>
<rect x="244" y="455" width="1" height="9"/>
<rect x="264" y="4" width="1" height="5"/>
<rect x="264" y="459" width="1" height="5"/>
<rect x="284" y="4" width="1" height="5"/>
<rect x="284" y="459" width="1" height="5"/>
<rect x="304" y="4" width="1" height="5"/>
<rect x="304" y="459" width="1" height="5"/>
<rect x="324" y="4" width="1" height="5"/>
<rect x="324" y="459" width="1" height="5"/>
<rect x="344" y="4" width="1" height="5"/>
<rect x="344" y="459" width="1" height="5"/>
<rect x="364" y="4" width="1" height="5"/>
<rect x="364" y="459" width="1" height="5"/>
<rect x="384" y="4" width="1" height="5"/>
<rect x="384" y="459" width="1" height="5"/>
<rect x="403" y="4" width="1" height="5"/>
<rect x="403" y="459" width="1" height="5"/>
<rect x="423" y="4" width="1" height="5"/>
<rect x="423" y="459" width="1" height="5"/>
<rect x="443" y="4" width="1" height="9"/>
<rect x="443" y="455" width="1" height="9"/>
<rect x="463" y="4" width="1" height="5"/>
<rect x="463" y="459" width="1" height="5"/>
<rect x="483" y="4" width="1" height="5"/>
<rect x="483" y="459" width="1" height="5"/>
<rect x="503" y="4" width="1" height="5"/>
<rect x="503" y="459" width="1" height="5"/>
<rect x="523" y="4" width="1" height="5"/>
<rect x="523" y="459" width="1" height="5"/>
<rect x="543" y="4" width="1" height="5"/>
<rect x="543" y="459" width="1" height="5"/>
<rect x="563" y="4" width="1" height="5"/>
<rect x="563" y="459" width="1" height="5"/>
<rect x="583" y="4" width="1" height="5"/>
<rect x="583" y="459" width="1" height="5"/>
<rect x="603" y="4" width="1" height="5"/>
<rect x="603" y="459" width="1" height="5"/>
<rect x="623" y="4" width="1" height="5"/>
<rect x="623" y="459" width="1" height="5"/>
<rect x="643" y="4" width="1" height="9"/>
<rect x="643" y="455" width="1" height="9"/>
<rect x="663" y="4" width="1" height="5"/>
<rect x="663" y="459" width="1" height="5"/>
<rect x="683" y="4" width="1" height="5"/>
<rect x="683" y="459" width="1" height="5"/>
<rect x="703" y="4" width="1" height="5"/>
<rect x="703" y="459" width="1" height="5"/>
<rect x="4" y="24" width="7" height="1"/>
<rect x="717" y="24" width="7" height="1"/>
<rect x="4" y="44" width="7" height="1"/>
<rect x="717" y="44" width="7" height="1"/>
<rect x="4" y="64" width="7" height="1"/>
<rect x="717" y="64" width="7" height="1"/>
<rect x="4" y="84" width="7" height="1"/>
<rect x="717" y="84" width="7" height="1"/>
<rect x="4" y="104" width="13" height="1"/>
<rect x="710" y="104" width="14" height="1"/>
<rect x="4" y="124" width="7" height="1"/>
<rect x="717" y="124" width="7" height="1"/>
<rect x="4" y="144" width="7" height="1"/>
<rect x="717" y="144" width="7" height="1"/>
<rect x="4" y="164" width="7" height="1"/>
<rect x="717" y="164" width="7" height="1"/>
<rect x="4" y="184" width="7" height="1"/>
<rect x="717" y="184" width="7" height="1"/>
<rect x="4" y="204" width="13" height="1"/>
<rect x="710" y="204" width="14" height="1"/>
<rect x="4" y="224" width="7" height="1"/>
<rect x="717" y="224" width="7" height="1"/>
<rect x="4" y="244" width="7" height="1"/>
<rect x="717" y="244" width="7" height="1"/>
<rect x="4" y="264" width="7" height="1"/>
<rect x="717" y="264" width="7" height="1"/>
<rect x="4" y="284" width="7" height="1"/>
<rect x="717" y="284" width="7" height="1"/>
<rect x="4" y="304" width="13" height="1"/>
<rect x="710" y="304" width="14" height="1"/>
<rect x="4" y="324" width="7" height="1"/>
<rect x="717" y="324" width="7" height="1"/>
<rect x="4" y="344" width="7" height="1"/>
<rect x="717" y="344" width="7" height="1"/>
<rect x="4" y="364" width="7" height="1"/>
<rect x="717" y="364" width="7" height="1"/>
<rect x="4" y="384" width="7" height="1"/>
<rect x="717" y="384" width="7" height="1"/>
<rect x="4" y="403" width="13" height="1"/>
<rect x="710" y="403" width="14" height="1"/>
<rect x="4" y="423" width="7" height="1"/>
<rect x="717" y="423" width="7" height="1"/>
<rect x="4" y="443" width="7" height="1"/>
<rect x="717" y="443" width="7" height="1"/>
</g>
<text transform="translate(18.52 30.00) scale(1.0074 1)" font-size="12.90" fill="#5e5e5e" letter-spacing="1.20">km</text>
<text x="41.44" y="30.00" font-size="12.90" fill="#5e5e5e" letter-spacing="0.00">N</text>
<text x="19.35" y="208.10" font-size="12.90" fill="#5e5e5e" letter-spacing="0.31">200</text>
<text x="19.62" y="408.00" font-size="12.90" fill="#5e5e5e" letter-spacing="0.18">100</text>
<text x="32.58" y="450.80" font-size="12.90" fill="#5e5e5e" letter-spacing="0.40">500</text>
<text x="232.64" y="450.80" font-size="12.90" fill="#5e5e5e" letter-spacing="0.37">600</text>
<text x="432.64" y="450.80" font-size="12.90" fill="#5e5e5e" letter-spacing="0.32">700</text>
<text x="631.84" y="450.80" font-size="12.90" fill="#5e5e5e" letter-spacing="0.67">800</text>
<text x="673.03" y="450.80" font-size="12.90" fill="#5e5e5e" letter-spacing="0.72">km</text>
<text x="694.74" y="450.80" font-size="12.90" fill="#5e5e5e" letter-spacing="0.00">E</text>
<g fill="#000" shape-rendering="crispEdges">
<rect x="263" y="72" width="7" height="1"/><rect x="266" y="69" width="1" height="7"/>
<rect x="307" y="65" width="7" height="1"/><rect x="310" y="62" width="1" height="7"/>
<rect x="307" y="95" width="7" height="1"/><rect x="310" y="92" width="1" height="7"/>
<rect x="338" y="106" width="7" height="1"/><rect x="341" y="103" width="1" height="7"/>
<rect x="322" y="111" width="7" height="1"/><rect x="325" y="108" width="1" height="7"/>
<rect x="228" y="114" width="7" height="1"/><rect x="231" y="111" width="1" height="7"/>
<rect x="294" y="135" width="7" height="1"/><rect x="297" y="132" width="1" height="7"/>
<rect x="237" y="152" width="7" height="1"/><rect x="240" y="149" width="1" height="7"/>
<rect x="327" y="152" width="7" height="1"/><rect x="330" y="149" width="1" height="7"/>
<rect x="266" y="166" width="7" height="1"/><rect x="269" y="163" width="1" height="7"/>
<rect x="183" y="163" width="7" height="1"/><rect x="186" y="160" width="1" height="7"/>
<rect x="183" y="181" width="7" height="1"/><rect x="186" y="178" width="1" height="7"/>
<rect x="166" y="98" width="7" height="1"/><rect x="169" y="95" width="1" height="7"/>
<rect x="396" y="36" width="7" height="1"/><rect x="399" y="33" width="1" height="7"/>
<rect x="418" y="37" width="7" height="1"/><rect x="421" y="34" width="1" height="7"/>
<rect x="479" y="45" width="7" height="1"/><rect x="482" y="42" width="1" height="7"/>
<rect x="518" y="55" width="7" height="1"/><rect x="521" y="52" width="1" height="7"/>
<rect x="354" y="59" width="7" height="1"/><rect x="357" y="56" width="1" height="7"/>
<rect x="361" y="68" width="7" height="1"/><rect x="364" y="65" width="1" height="7"/>
<rect x="406" y="84" width="7" height="1"/><rect x="409" y="81" width="1" height="7"/>
<rect x="404" y="96" width="7" height="1"/><rect x="407" y="93" width="1" height="7"/>
<rect x="411" y="107" width="7" height="1"/><rect x="414" y="104" width="1" height="7"/>
<rect x="462" y="83" width="7" height="1"/><rect x="465" y="80" width="1" height="7"/>
<rect x="512" y="78" width="7" height="1"/><rect x="515" y="75" width="1" height="7"/>
<rect x="468" y="107" width="7" height="1"/><rect x="471" y="104" width="1" height="7"/>
<rect x="494" y="129" width="7" height="1"/><rect x="497" y="126" width="1" height="7"/>
<rect x="529" y="133" width="7" height="1"/><rect x="532" y="130" width="1" height="7"/>
<rect x="429" y="142" width="7" height="1"/><rect x="432" y="139" width="1" height="7"/>
<rect x="361" y="137" width="7" height="1"/><rect x="364" y="134" width="1" height="7"/>
<rect x="537" y="94" width="7" height="1"/><rect x="540" y="91" width="1" height="7"/>
<rect x="562" y="80" width="7" height="1"/><rect x="565" y="77" width="1" height="7"/>
<rect x="569" y="104" width="7" height="1"/><rect x="572" y="101" width="1" height="7"/>
<rect x="441" y="161" width="7" height="1"/><rect x="444" y="158" width="1" height="7"/>
<rect x="423" y="172" width="7" height="1"/><rect x="426" y="169" width="1" height="7"/>
<rect x="372" y="183" width="7" height="1"/><rect x="375" y="180" width="1" height="7"/>
<rect x="365" y="196" width="7" height="1"/><rect x="368" y="193" width="1" height="7"/>
<rect x="489" y="182" width="7" height="1"/><rect x="492" y="179" width="1" height="7"/>
<rect x="506" y="206" width="7" height="1"/><rect x="509" y="203" width="1" height="7"/>
<rect x="421" y="216" width="7" height="1"/><rect x="424" y="213" width="1" height="7"/>
<rect x="389" y="231" width="7" height="1"/><rect x="392" y="228" width="1" height="7"/>
<rect x="457" y="255" width="7" height="1"/><rect x="460" y="252" width="1" height="7"/>
<rect x="421" y="268" width="7" height="1"/><rect x="424" y="265" width="1" height="7"/>
<rect x="416" y="273" width="7" height="1"/><rect x="419" y="270" width="1" height="7"/>
<rect x="509" y="272" width="7" height="1"/><rect x="512" y="269" width="1" height="7"/>
<rect x="378" y="287" width="7" height="1"/><rect x="381" y="284" width="1" height="7"/>
<rect x="374" y="301" width="7" height="1"/><rect x="377" y="298" width="1" height="7"/>
<rect x="433" y="298" width="7" height="1"/><rect x="436" y="295" width="1" height="7"/>
<rect x="356" y="226" width="7" height="1"/><rect x="359" y="223" width="1" height="7"/>
<rect x="353" y="251" width="7" height="1"/><rect x="356" y="248" width="1" height="7"/>
<rect x="245" y="194" width="7" height="1"/><rect x="248" y="191" width="1" height="7"/>
<rect x="217" y="198" width="7" height="1"/><rect x="220" y="195" width="1" height="7"/>
<rect x="317" y="191" width="7" height="1"/><rect x="320" y="188" width="1" height="7"/>
<rect x="297" y="205" width="7" height="1"/><rect x="300" y="202" width="1" height="7"/>
<rect x="328" y="204" width="7" height="1"/><rect x="331" y="201" width="1" height="7"/>
<rect x="191" y="243" width="7" height="1"/><rect x="194" y="240" width="1" height="7"/>
<rect x="215" y="248" width="7" height="1"/><rect x="218" y="245" width="1" height="7"/>
<rect x="263" y="248" width="7" height="1"/><rect x="266" y="245" width="1" height="7"/>
<rect x="185" y="268" width="7" height="1"/><rect x="188" y="265" width="1" height="7"/>
<rect x="307" y="265" width="7" height="1"/><rect x="310" y="262" width="1" height="7"/>
<rect x="275" y="281" width="7" height="1"/><rect x="278" y="278" width="1" height="7"/>
<rect x="196" y="305" width="7" height="1"/><rect x="199" y="302" width="1" height="7"/>
<rect x="260" y="304" width="7" height="1"/><rect x="263" y="301" width="1" height="7"/>
<rect x="143" y="173" width="7" height="1"/><rect x="146" y="170" width="1" height="7"/>
<rect x="115" y="195" width="7" height="1"/><rect x="118" y="192" width="1" height="7"/>
<rect x="167" y="192" width="7" height="1"/><rect x="170" y="189" width="1" height="7"/>
<rect x="109" y="227" width="7" height="1"/><rect x="112" y="224" width="1" height="7"/>
<rect x="165" y="234" width="7" height="1"/><rect x="168" y="231" width="1" height="7"/>
<rect x="108" y="250" width="7" height="1"/><rect x="111" y="247" width="1" height="7"/>
<rect x="129" y="276" width="7" height="1"/><rect x="132" y="273" width="1" height="7"/>
<rect x="152" y="287" width="7" height="1"/><rect x="155" y="284" width="1" height="7"/>
<rect x="73" y="297" width="7" height="1"/><rect x="76" y="294" width="1" height="7"/>
<rect x="123" y="299" width="7" height="1"/><rect x="126" y="296" width="1" height="7"/>
<rect x="176" y="292" width="7" height="1"/><rect x="179" y="289" width="1" height="7"/>
<rect x="35" y="318" width="7" height="1"/><rect x="38" y="315" width="1" height="7"/>
<rect x="55" y="324" width="7" height="1"/><rect x="58" y="321" width="1" height="7"/>
<rect x="39" y="358" width="7" height="1"/><rect x="42" y="355" width="1" height="7"/>
<rect x="145" y="310" width="7" height="1"/><rect x="148" y="307" width="1" height="7"/>
<rect x="161" y="342" width="7" height="1"/><rect x="164" y="339" width="1" height="7"/>
<rect x="175" y="388" width="7" height="1"/><rect x="178" y="385" width="1" height="7"/>
<rect x="244" y="348" width="7" height="1"/><rect x="247" y="345" width="1" height="7"/>
<rect x="303" y="347" width="7" height="1"/><rect x="306" y="344" width="1" height="7"/>
<rect x="224" y="366" width="7" height="1"/><rect x="227" y="363" width="1" height="7"/>
<rect x="302" y="371" width="7" height="1"/><rect x="305" y="368" width="1" height="7"/>
<rect x="336" y="370" width="7" height="1"/><rect x="339" y="367" width="1" height="7"/>
<rect x="270" y="382" width="7" height="1"/><rect x="273" y="379" width="1" height="7"/>
<rect x="252" y="390" width="7" height="1"/><rect x="255" y="387" width="1" height="7"/>
<rect x="208" y="399" width="7" height="1"/><rect x="211" y="396" width="1" height="7"/>
<rect x="290" y="408" width="7" height="1"/><rect x="293" y="405" width="1" height="7"/>
<rect x="199" y="444" width="7" height="1"/><rect x="202" y="441" width="1" height="7"/>
<rect x="406" y="315" width="7" height="1"/><rect x="409" y="312" width="1" height="7"/>
<rect x="471" y="310" width="7" height="1"/><rect x="474" y="307" width="1" height="7"/>
<rect x="450" y="368" width="7" height="1"/><rect x="453" y="365" width="1" height="7"/>
<rect x="449" y="374" width="7" height="1"/><rect x="452" y="371" width="1" height="7"/>
<rect x="472" y="377" width="7" height="1"/><rect x="475" y="374" width="1" height="7"/>
<rect x="477" y="411" width="7" height="1"/><rect x="480" y="408" width="1" height="7"/>
<rect x="486" y="428" width="7" height="1"/><rect x="489" y="425" width="1" height="7"/>
<rect x="473" y="447" width="7" height="1"/><rect x="476" y="444" width="1" height="7"/>
<rect x="598" y="313" width="7" height="1"/><rect x="601" y="310" width="1" height="7"/>
<rect x="607" y="316" width="7" height="1"/><rect x="610" y="313" width="1" height="7"/>
<rect x="638" y="317" width="7" height="1"/><rect x="641" y="314" width="1" height="7"/>
<rect x="578" y="331" width="7" height="1"/><rect x="581" y="328" width="1" height="7"/>
<rect x="645" y="331" width="7" height="1"/><rect x="648" y="328" width="1" height="7"/>
<rect x="556" y="160" width="7" height="1"/><rect x="559" y="157" width="1" height="7"/>
<rect x="555" y="184" width="7" height="1"/><rect x="558" y="181" width="1" height="7"/>
<rect x="580" y="193" width="7" height="1"/><rect x="583" y="190" width="1" height="7"/>
<rect x="560" y="217" width="7" height="1"/><rect x="563" y="214" width="1" height="7"/>
<rect x="602" y="224" width="7" height="1"/><rect x="605" y="221" width="1" height="7"/>
<rect x="583" y="233" width="7" height="1"/><rect x="586" y="230" width="1" height="7"/>
<rect x="564" y="242" width="7" height="1"/><rect x="567" y="239" width="1" height="7"/>
<rect x="675" y="229" width="7" height="1"/><rect x="678" y="226" width="1" height="7"/>
<rect x="674" y="263" width="7" height="1"/><rect x="677" y="260" width="1" height="7"/>
<rect x="700" y="271" width="7" height="1"/><rect x="703" y="268" width="1" height="7"/>
<rect x="596" y="270" width="7" height="1"/><rect x="599" y="267" width="1" height="7"/>
<rect x="546" y="275" width="7" height="1"/><rect x="549" y="272" width="1" height="7"/>
<rect x="562" y="282" width="7" height="1"/><rect x="565" y="279" width="1" height="7"/>
<rect x="615" y="292" width="7" height="1"/><rect x="618" y="289" width="1" height="7"/>
<rect x="584" y="305" width="7" height="1"/><rect x="587" y="302" width="1" height="7"/>
<rect x="509" y="308" width="7" height="1"/><rect x="512" y="305" width="1" height="7"/>
</g>
<text class="st" x="271.1" y="73.0">60</text>
<text class="st" x="315.4" y="65.8">38</text>
<text class="st" x="315.9" y="95.8">40</text>
<text class="st" x="346.1" y="107.0">35</text>
<text class="st" x="330.4" y="118.8">38</text>
<text class="st" x="236.1" y="114.5">35</text>
<text class="st" x="302.1" y="136.0">39</text>
<text class="st" x="245.3" y="153.0">34</text>
<text class="st" x="335.4" y="153.0">36</text>
<text class="st" x="274.1" y="167.0">34</text>
<text class="st" x="192.1" y="163.8">19</text>
<text class="st" x="192.1" y="188.8">17</text>
<text class="st" x="174.3" y="98.8">28</text>
<text class="st" x="401.1" y="33.8">58</text>
<text class="st" x="426.1" y="37.5">46</text>
<text class="st" x="487.4" y="45.8">155</text>
<text class="st" x="526.1" y="55.8">54</text>
<text class="st" x="362.4" y="60.0">65</text>
<text class="st" x="369.1" y="72.0">38</text>
<text class="st" x="414.4" y="85.0">39</text>
<text class="st" x="412.4" y="97.0">34</text>
<text class="st" x="419.1" y="110.0">63</text>
<text class="st" x="470.4" y="83.8">50</text>
<text class="st" x="520.4" y="79.2">45</text>
<text class="st" x="476.6" y="108.0">65</text>
<text class="st" x="501.9" y="130.0">83</text>
<text class="st" x="537.4" y="133.8">66</text>
<text class="st" x="437.6" y="143.0">70</text>
<text class="st" x="369.1" y="137.5">34</text>
<text class="st" x="545.6" y="95.0">47</text>
<text class="st" x="570.6" y="81.2">43</text>
<text class="st" x="577.6" y="105.0">69</text>
<text class="st" x="449.1" y="161.5">61</text>
<text class="st" x="431.6" y="174.0">56</text>
<text class="st" x="380.4" y="184.0">28</text>
<text class="st" x="373.6" y="197.0">28</text>
<text class="st" x="497.4" y="183.2">26</text>
<text class="st" x="514.9" y="207.0">11</text>
<text class="st" x="429.1" y="217.0">20</text>
<text class="st" x="397.4" y="232.0">24</text>
<text class="st" x="465.4" y="255.8">13</text>
<text class="st" x="429.1" y="268.2">13</text>
<text class="st" x="424.9" y="281.0">11</text>
<text class="st" x="517.4" y="272.8">11</text>
<text class="st" x="386.1" y="287.8">20</text>
<text class="st" x="381.9" y="302.0">8.6</text>
<text class="st" x="441.6" y="299.0">11</text>
<text class="st" x="363.6" y="225.8">21</text>
<text class="st" x="363.6" y="251.5">20</text>
<text class="st" x="253.3" y="194.8">34</text>
<text class="st" x="218.3" y="205.2">38</text>
<text class="st" x="325.4" y="191.5">36</text>
<text class="st" x="305.4" y="206.0">39</text>
<text class="st" x="336.6" y="204.8">34</text>
<text class="st" x="199.1" y="246.8" style="font-size:13px;letter-spacing:0.3px">***</text>
<text class="st" x="223.3" y="249.0">30</text>
<text class="st" x="271.1" y="249.0">21</text>
<text class="st" x="193.3" y="269.0">8.7</text>
<text class="st" x="315.4" y="265.8">20</text>
<text class="st" x="283.6" y="282.0">18</text>
<text class="st" x="204.6" y="307.0">7.5</text>
<text class="st" x="268.4" y="305.2">20</text>
<text class="st" x="151.3" y="174.0">12</text>
<text class="st" x="123.8" y="195.8">23</text>
<text class="st" x="175.8" y="199.0">48</text>
<text class="st" x="117.1" y="228.2">5.4</text>
<text class="st" x="173.8" y="234.5">4.0</text>
<text class="st" x="116.3" y="251.0">6.5</text>
<text class="st" x="137.6" y="277.0">12</text>
<text class="st" x="160.8" y="287.8">18</text>
<text class="st" x="81.3" y="298.2">2.2</text>
<text class="st" x="131.3" y="300.8">41</text>
<text class="st" x="184.1" y="294.0">6.8</text>
<text class="st" x="43.4" y="319.2">3.6</text>
<text class="st" x="63.4" y="324.8">0.0</text>
<text class="st" x="47.1" y="358.8">0.2</text>
<text class="st" x="153.3" y="311.0">21</text>
<text class="st" x="170.1" y="343.0">4.5</text>
<text class="st" x="183.8" y="388.5">5.8</text>
<text class="st" x="252.6" y="348.8">6.9</text>
<text class="st" x="311.6" y="348.0">3.1</text>
<text class="st" x="232.6" y="366.8">2.1</text>
<text class="st" x="310.9" y="371.8">1.5</text>
<text class="st" x="344.6" y="371.0">3.8</text>
<text class="st" x="277.9" y="382.5">16</text>
<text class="st" x="260.4" y="391.2">2.2</text>
<text class="st" x="216.6" y="399.8">1.5</text>
<text class="st" x="298.6" y="408.8">4.0</text>
<text class="st" x="207.6" y="444.8">2.6</text>
<text class="st" x="414.9" y="315.5">11</text>
<text class="st" x="479.9" y="311.0">16</text>
<text class="st" x="447.4" y="363.5">14</text>
<text class="st" x="447.4" y="386.0">14</text>
<text class="st" x="480.6" y="377.5">18</text>
<text class="st" x="485.4" y="411.8">22</text>
<text class="st" x="494.9" y="428.8">21</text>
<text class="st" x="481.6" y="448.0">21</text>
<text class="st" x="606.9" y="313.0">16</text>
<text class="st" x="616.1" y="323.0">16</text>
<text class="st" x="646.4" y="318.0">18</text>
<text class="st" x="586.9" y="331.8">14</text>
<text class="st" x="653.6" y="331.8">15</text>
<text class="st" x="564.4" y="160.8">14</text>
<text class="st" x="563.6" y="185.2">11</text>
<text class="st" x="588.6" y="194.0">11</text>
<text class="st" x="568.6" y="218.2">2.8</text>
<text class="st" x="603.6" y="219.5">15</text>
<text class="st" x="591.9" y="233.5">11</text>
<text class="st" x="572.6" y="243.2">5.4</text>
<text class="st" x="683.6" y="230.8">3.9</text>
<text class="st" x="682.4" y="264.0">7.2</text>
<text class="st" x="708.1" y="272.8">9.4</text>
<text class="st" x="604.4" y="271.0">11</text>
<text class="st" x="554.9" y="276.5">7.7</text>
<text class="st" x="570.6" y="287.8">6.5</text>
<text class="st" x="623.6" y="292.8">9.7</text>
<text class="st" x="592.4" y="307.0">9.2</text>
<text class="st" x="517.6" y="308.8">19</text>
<text x="4.75" y="492.00" font-size="17.00" fill="#000" letter-spacing="0.65">20.08.2025</text>
<text x="104.15" y="492.00" font-size="17.00" fill="#000" letter-spacing="0.82">2030</text>
<text x="152.44" y="492.00" font-size="17.00" fill="#000" letter-spacing="0.33">Uhr</text>
<text x="196.40" y="492.00" font-size="17.00" fill="#000" letter-spacing="-0.01">bis</text>
<text x="234.35" y="492.00" font-size="17.00" fill="#000" letter-spacing="0.64">21.08.2025</text>
<text x="333.15" y="492.00" font-size="17.00" fill="#000" letter-spacing="1.07">2030</text>
<text x="381.44" y="492.00" font-size="17.00" fill="#000" letter-spacing="0.33">Uhr</text>
<text x="607.11" y="492.00" font-size="17.00" fill="#000" letter-spacing="0.27">Letzte</text>
<text x="662.65" y="492.00" font-size="17.00" fill="#000" letter-spacing="0.94">24</text>
<text x="691.23" y="492.00" font-size="17.00" fill="#000" letter-spacing="0.03">Std.</text>
<g shape-rendering="crispEdges">
<rect x="4" y="499" width="721" height="92" fill="#6e6e6e"/>
<rect x="5" y="500" width="143" height="22" fill="#cfcfcf"/>
<rect x="5" y="522" width="143" height="23" fill="#a6b8ff"/>
<rect x="5" y="545" width="143" height="23" fill="#7094ff"/>
<rect x="5" y="568" width="143" height="22" fill="#3060ff"/>
<rect x="148" y="500" width="144" height="22" fill="#aaff5f"/>
<rect x="148" y="522" width="144" height="23" fill="#00e000"/>
<rect x="148" y="545" width="144" height="23" fill="#00b400"/>
<rect x="148" y="568" width="144" height="22" fill="#008000"/>
<rect x="292" y="500" width="144" height="22" fill="#ffff00"/>
<rect x="292" y="522" width="144" height="23" fill="#ffc30a"/>
<rect x="292" y="545" width="144" height="23" fill="#ffa000"/>
<rect x="292" y="568" width="144" height="22" fill="#ff8000"/>
<rect x="436" y="500" width="144" height="22" fill="#d46a00"/>
<rect x="436" y="522" width="144" height="23" fill="#ff0000"/>
<rect x="436" y="545" width="144" height="23" fill="#b00000"/>
<rect x="436" y="568" width="144" height="22" fill="#800000"/>
<rect x="580" y="500" width="145" height="22" fill="#ff40ff"/>
<rect x="580" y="522" width="145" height="23" fill="#ff00ff"/>
<rect x="580" y="545" width="145" height="23" fill="#b00080"/>
<rect x="580" y="568" width="145" height="22" fill="#8000ff"/>
</g>
<g clip-path="url(#tr)" filter="url(#bl)">
<defs><clipPath id="tr"><rect x="5" y="500" width="143" height="22"/></clipPath><filter id="bl" x="0" y="0" width="100%" height="100%"><feGaussianBlur stdDeviation="0.5"/></filter></defs>
<rect x="5" y="500" width="143" height="22" fill="#d0d0d0"/>
<line x1="48.3" y1="506.3" x2="51.5" y2="497.6" stroke="#ffffff" stroke-width="1.3" stroke-linecap="round" opacity="0.75"/>
<line x1="6.1" y1="513.2" x2="9.0" y2="505.3" stroke="#b4b4b4" stroke-width="1.4" stroke-linecap="round" opacity="0.64"/>
<line x1="91.9" y1="528.3" x2="97.8" y2="517.0" stroke="#ffffff" stroke-width="2.9" stroke-linecap="round" opacity="0.67"/>
<line x1="21.4" y1="503.6" x2="25.3" y2="498.5" stroke="#ffffff" stroke-width="2.5" stroke-linecap="round" opacity="0.70"/>
<line x1="81.0" y1="504.4" x2="85.1" y2="494.8" stroke="#ffffff" stroke-width="1.8" stroke-linecap="round" opacity="0.78"/>
<line x1="67.3" y1="502.8" x2="70.8" y2="508.8" stroke="#ffffff" stroke-width="2.3" stroke-linecap="round" opacity="0.90"/>
<line x1="106.9" y1="502.6" x2="113.0" y2="508.4" stroke="#b4b4b4" stroke-width="1.5" stroke-linecap="round" opacity="0.75"/>
<line x1="4.5" y1="510.4" x2="11.1" y2="520.4" stroke="#ffffff" stroke-width="2.6" stroke-linecap="round" opacity="0.79"/>
<line x1="86.1" y1="505.8" x2="89.5" y2="513.9" stroke="#ffffff" stroke-width="1.3" stroke-linecap="round" opacity="0.83"/>
<line x1="95.1" y1="520.8" x2="100.5" y2="526.8" stroke="#ffffff" stroke-width="1.2" stroke-linecap="round" opacity="0.73"/>
<line x1="25.1" y1="503.5" x2="28.6" y2="498.6" stroke="#ffffff" stroke-width="2.0" stroke-linecap="round" opacity="0.90"/>
<line x1="10.3" y1="514.2" x2="17.5" y2="505.2" stroke="#b4b4b4" stroke-width="1.8" stroke-linecap="round" opacity="0.72"/>
<line x1="52.8" y1="518.7" x2="57.4" y2="523.2" stroke="#ffffff" stroke-width="1.7" stroke-linecap="round" opacity="0.74"/>
<line x1="87.3" y1="508.3" x2="91.1" y2="501.3" stroke="#ffffff" stroke-width="3.1" stroke-linecap="round" opacity="0.83"/>
<line x1="76.2" y1="519.8" x2="80.3" y2="508.3" stroke="#b4b4b4" stroke-width="2.9" stroke-linecap="round" opacity="0.87"/>
<line x1="58.6" y1="510.7" x2="61.6" y2="506.1" stroke="#ffffff" stroke-width="1.6" stroke-linecap="round" opacity="0.61"/>
<line x1="51.2" y1="502.1" x2="53.4" y2="496.7" stroke="#ffffff" stroke-width="1.3" stroke-linecap="round" opacity="0.90"/>
<line x1="91.1" y1="505.4" x2="94.6" y2="498.3" stroke="#ffffff" stroke-width="2.9" stroke-linecap="round" opacity="0.95"/>
<line x1="69.6" y1="514.2" x2="72.3" y2="507.0" stroke="#ffffff" stroke-width="2.9" stroke-linecap="round" opacity="0.61"/>
<line x1="3.7" y1="527.1" x2="7.1" y2="518.4" stroke="#ffffff" stroke-width="2.3" stroke-linecap="round" opacity="0.94"/>
<line x1="128.3" y1="518.9" x2="131.2" y2="513.3" stroke="#b4b4b4" stroke-width="2.3" stroke-linecap="round" opacity="0.86"/>
<line x1="48.6" y1="498.3" x2="53.0" y2="509.3" stroke="#b4b4b4" stroke-width="2.8" stroke-linecap="round" opacity="0.85"/>
<line x1="34.7" y1="513.9" x2="36.4" y2="509.0" stroke="#ffffff" stroke-width="1.7" stroke-linecap="round" opacity="0.83"/>
<line x1="141.2" y1="503.8" x2="145.9" y2="515.5" stroke="#ffffff" stroke-width="1.6" stroke-linecap="round" opacity="0.64"/>
<line x1="27.4" y1="507.9" x2="34.8" y2="498.8" stroke="#ffffff" stroke-width="2.5" stroke-linecap="round" opacity="0.87"/>
<line x1="12.0" y1="510.3" x2="17.1" y2="520.1" stroke="#ffffff" stroke-width="1.6" stroke-linecap="round" opacity="0.87"/>
<line x1="48.7" y1="515.6" x2="53.8" y2="522.0" stroke="#b4b4b4" stroke-width="2.6" stroke-linecap="round" opacity="0.62"/>
<line x1="19.4" y1="499.2" x2="22.2" y2="504.7" stroke="#b4b4b4" stroke-width="3.2" stroke-linecap="round" opacity="0.81"/>
<line x1="51.8" y1="518.3" x2="55.9" y2="506.2" stroke="#ffffff" stroke-width="2.3" stroke-linecap="round" opacity="0.92"/>
<line x1="63.8" y1="518.1" x2="68.6" y2="523.2" stroke="#ffffff" stroke-width="1.7" stroke-linecap="round" opacity="0.78"/>
<line x1="37.9" y1="511.9" x2="42.9" y2="505.9" stroke="#ffffff" stroke-width="2.4" stroke-linecap="round" opacity="0.91"/>
<line x1="61.9" y1="525.8" x2="66.6" y2="517.9" stroke="#ffffff" stroke-width="2.1" stroke-linecap="round" opacity="0.62"/>
<line x1="-0.1" y1="523.5" x2="5.2" y2="514.1" stroke="#ffffff" stroke-width="1.9" stroke-linecap="round" opacity="0.76"/>
<line x1="82.4" y1="521.4" x2="86.0" y2="515.4" stroke="#ffffff" stroke-width="2.7" stroke-linecap="round" opacity="0.75"/>
<line x1="82.1" y1="513.8" x2="88.1" y2="521.7" stroke="#ffffff" stroke-width="2.2" stroke-linecap="round" opacity="0.83"/>
<line x1="65.5" y1="515.9" x2="72.3" y2="507.8" stroke="#b4b4b4" stroke-width="3.1" stroke-linecap="round" opacity="0.65"/>
<line x1="82.7" y1="520.4" x2="87.0" y2="524.6" stroke="#ffffff" stroke-width="1.3" stroke-linecap="round" opacity="0.65"/>
<line x1="11.5" y1="512.6" x2="14.1" y2="518.3" stroke="#ffffff" stroke-width="2.5" stroke-linecap="round" opacity="0.61"/>
<line x1="130.0" y1="526.3" x2="135.3" y2="520.0" stroke="#ffffff" stroke-width="3.2" stroke-linecap="round" opacity="0.88"/>
<line x1="24.4" y1="512.2" x2="27.3" y2="506.3" stroke="#ffffff" stroke-width="2.6" stroke-linecap="round" opacity="0.56"/>
<line x1="81.8" y1="513.9" x2="86.2" y2="505.0" stroke="#ffffff" stroke-width="1.3" stroke-linecap="round" opacity="0.94"/>
<line x1="117.6" y1="525.7" x2="119.8" y2="520.8" stroke="#b4b4b4" stroke-width="1.7" stroke-linecap="round" opacity="0.60"/>
<line x1="62.4" y1="519.4" x2="66.6" y2="524.0" stroke="#b4b4b4" stroke-width="2.3" stroke-linecap="round" opacity="0.83"/>
<line x1="13.9" y1="502.0" x2="16.6" y2="497.0" stroke="#b4b4b4" stroke-width="2.5" stroke-linecap="round" opacity="0.87"/>
<line x1="11.7" y1="523.7" x2="17.1" y2="516.9" stroke="#ffffff" stroke-width="2.3" stroke-linecap="round" opacity="0.92"/>
<line x1="40.5" y1="504.0" x2="42.8" y2="498.7" stroke="#ffffff" stroke-width="1.3" stroke-linecap="round" opacity="0.63"/>
<line x1="45.2" y1="502.6" x2="51.2" y2="509.3" stroke="#ffffff" stroke-width="1.9" stroke-linecap="round" opacity="0.56"/>
<line x1="37.2" y1="495.7" x2="40.9" y2="501.1" stroke="#ffffff" stroke-width="3.1" stroke-linecap="round" opacity="0.59"/>
<line x1="120.7" y1="512.5" x2="125.7" y2="506.0" stroke="#ffffff" stroke-width="2.6" stroke-linecap="round" opacity="0.94"/>
<line x1="50.6" y1="516.1" x2="54.9" y2="523.1" stroke="#ffffff" stroke-width="1.3" stroke-linecap="round" opacity="0.60"/>
<line x1="11.4" y1="519.9" x2="13.5" y2="514.6" stroke="#b4b4b4" stroke-width="2.9" stroke-linecap="round" opacity="0.82"/>
<line x1="42.2" y1="507.0" x2="45.2" y2="501.6" stroke="#ffffff" stroke-width="1.7" stroke-linecap="round" opacity="0.93"/>
<line x1="143.5" y1="515.1" x2="148.4" y2="509.4" stroke="#ffffff" stroke-width="1.2" stroke-linecap="round" opacity="0.70"/>
<line x1="71.0" y1="513.3" x2="73.5" y2="508.9" stroke="#ffffff" stroke-width="1.4" stroke-linecap="round" opacity="0.71"/>
<line x1="6.2" y1="503.0" x2="10.1" y2="494.2" stroke="#ffffff" stroke-width="2.7" stroke-linecap="round" opacity="0.81"/>
<line x1="105.2" y1="526.7" x2="110.8" y2="515.1" stroke="#ffffff" stroke-width="2.6" stroke-linecap="round" opacity="0.81"/>
<line x1="5.6" y1="515.1" x2="11.4" y2="524.3" stroke="#b4b4b4" stroke-width="1.5" stroke-linecap="round" opacity="0.76"/>
<line x1="74.5" y1="515.4" x2="78.8" y2="524.0" stroke="#b4b4b4" stroke-width="2.6" stroke-linecap="round" opacity="0.83"/>
<line x1="34.7" y1="501.4" x2="37.3" y2="496.2" stroke="#b4b4b4" stroke-width="2.3" stroke-linecap="round" opacity="0.80"/>
<line x1="92.9" y1="521.1" x2="96.5" y2="510.3" stroke="#b4b4b4" stroke-width="2.2" stroke-linecap="round" opacity="0.76"/>
<line x1="97.7" y1="497.7" x2="101.5" y2="501.8" stroke="#ffffff" stroke-width="2.7" stroke-linecap="round" opacity="0.63"/>
<line x1="109.5" y1="527.3" x2="113.5" y2="519.4" stroke="#ffffff" stroke-width="2.7" stroke-linecap="round" opacity="0.80"/>
<line x1="94.9" y1="505.0" x2="99.4" y2="495.0" stroke="#ffffff" stroke-width="2.3" stroke-linecap="round" opacity="0.55"/>
<line x1="8.1" y1="509.3" x2="13.9" y2="500.7" stroke="#ffffff" stroke-width="2.2" stroke-linecap="round" opacity="0.74"/>
<line x1="66.5" y1="496.5" x2="75.5" y2="505.7" stroke="#b4b4b4" stroke-width="1.2" stroke-linecap="round" opacity="0.73"/>
<line x1="122.0" y1="526.2" x2="124.7" y2="520.1" stroke="#b4b4b4" stroke-width="1.6" stroke-linecap="round" opacity="0.78"/>
<line x1="18.8" y1="507.6" x2="27.1" y2="515.6" stroke="#ffffff" stroke-width="3.0" stroke-linecap="round" opacity="0.83"/>
<line x1="35.4" y1="523.7" x2="37.1" y2="519.0" stroke="#ffffff" stroke-width="2.1" stroke-linecap="round" opacity="0.67"/>
<line x1="21.3" y1="508.9" x2="24.4" y2="505.0" stroke="#b4b4b4" stroke-width="2.9" stroke-linecap="round" opacity="0.60"/>
<line x1="136.5" y1="513.6" x2="141.8" y2="519.5" stroke="#ffffff" stroke-width="3.2" stroke-linecap="round" opacity="0.79"/>
<line x1="54.4" y1="511.9" x2="56.4" y2="506.4" stroke="#b4b4b4" stroke-width="1.8" stroke-linecap="round" opacity="0.92"/>
<line x1="37.4" y1="508.6" x2="40.4" y2="501.2" stroke="#b4b4b4" stroke-width="3.0" stroke-linecap="round" opacity="0.87"/>
<line x1="92.4" y1="517.3" x2="98.4" y2="526.2" stroke="#ffffff" stroke-width="2.7" stroke-linecap="round" opacity="0.73"/>
<line x1="111.3" y1="520.6" x2="115.5" y2="508.9" stroke="#ffffff" stroke-width="2.1" stroke-linecap="round" opacity="0.69"/>
<line x1="42.6" y1="513.4" x2="49.5" y2="521.0" stroke="#ffffff" stroke-width="2.3" stroke-linecap="round" opacity="0.71"/>
<line x1="23.9" y1="505.7" x2="29.6" y2="498.7" stroke="#ffffff" stroke-width="3.0" stroke-linecap="round" opacity="0.95"/>
<line x1="67.2" y1="505.3" x2="69.9" y2="498.0" stroke="#ffffff" stroke-width="1.7" stroke-linecap="round" opacity="0.65"/>
<line x1="83.7" y1="517.8" x2="88.9" y2="524.3" stroke="#ffffff" stroke-width="2.0" stroke-linecap="round" opacity="0.69"/>
<line x1="7.9" y1="502.1" x2="14.4" y2="508.3" stroke="#ffffff" stroke-width="2.9" stroke-linecap="round" opacity="0.64"/>
<line x1="39.1" y1="510.0" x2="45.1" y2="498.9" stroke="#b4b4b4" stroke-width="2.9" stroke-linecap="round" opacity="0.56"/>
<line x1="3.9" y1="512.5" x2="9.6" y2="520.4" stroke="#ffffff" stroke-width="2.0" stroke-linecap="round" opacity="0.92"/>
<line x1="122.2" y1="518.1" x2="126.2" y2="522.4" stroke="#ffffff" stroke-width="2.2" stroke-linecap="round" opacity="0.82"/>
<line x1="138.8" y1="520.3" x2="143.9" y2="513.3" stroke="#ffffff" stroke-width="1.3" stroke-linecap="round" opacity="0.86"/>
<line x1="35.1" y1="524.6" x2="37.7" y2="519.2" stroke="#ffffff" stroke-width="2.5" stroke-linecap="round" opacity="0.83"/>
<line x1="16.5" y1="503.3" x2="20.7" y2="496.4" stroke="#ffffff" stroke-width="2.4" stroke-linecap="round" opacity="0.55"/>
<polyline points="30.5,500 31.5,505 32.5,510 32,516 32.8,522" fill="none" stroke="#8a90ff" stroke-width="0.9"/>
<polyline points="129,500 129.8,504 131,508 128,513 124,518 120.5,522" fill="none" stroke="#8a90ff" stroke-width="0.9"/>
</g>
<text x="47.70" y="515.30" font-size="13.30" fill="#000" letter-spacing="0.77">Trocken</text>
<text x="31.23" y="537.80" font-size="13.30" fill="#000" letter-spacing="1.02">0.0 - 0.2 mm</text>
<text x="31.23" y="560.80" font-size="13.30" fill="#fff" letter-spacing="1.02">0.2 - 0.5 mm</text>
<text x="31.23" y="583.50" font-size="13.30" fill="#fff" letter-spacing="1.02">0.5 - 1.0 mm</text>
<text x="184.74" y="515.30" font-size="13.30" fill="#000" letter-spacing="1.17">1 - 2 mm</text>
<text x="185.08" y="537.80" font-size="13.30" fill="#000" letter-spacing="1.12">2 - 4 mm</text>
<text x="185.44" y="560.80" font-size="13.30" fill="#fff" letter-spacing="1.07">4 - 7 mm</text>
<text x="185.07" y="583.50" font-size="13.30" fill="#fff" letter-spacing="1.06">7 - 10 mm</text>
<text x="322.99" y="515.30" font-size="13.30" fill="#000" letter-spacing="1.01">10 - 20 mm</text>
<text x="323.33" y="537.80" font-size="13.30" fill="#000" letter-spacing="0.98">20 - 40 mm</text>
<text x="323.69" y="560.80" font-size="13.30" fill="#fff" letter-spacing="0.94">40 - 70 mm</text>
<text x="323.32" y="583.50" font-size="13.30" fill="#fff" letter-spacing="0.94">70 - 100 mm</text>
<text x="461.24" y="515.30" font-size="13.30" fill="#000" letter-spacing="0.96">100 - 150 mm</text>
<text x="461.24" y="537.80" font-size="13.30" fill="#000" letter-spacing="0.96">150 - 200 mm</text>
<text x="461.58" y="560.80" font-size="13.30" fill="#fff" letter-spacing="0.93">200 - 250 mm</text>
<text x="461.58" y="583.50" font-size="13.30" fill="#fff" letter-spacing="0.93">250 - 300 mm</text>
<text x="604.24" y="515.30" font-size="13.30" fill="#000" letter-spacing="0.92">300 - 350 mm</text>
<text x="604.24" y="537.80" font-size="13.30" fill="#000" letter-spacing="0.92">350 - 400 mm</text>
<text x="604.44" y="560.80" font-size="13.30" fill="#fff" letter-spacing="0.90">400 - 450 mm</text>
<text x="604.44" y="583.50" font-size="13.30" fill="#fff" letter-spacing="0.90">450 - 500 mm</text>
<circle cx="13.2" cy="607.1" r="8.2" fill="none" stroke="#2a2a2a" stroke-width="1"/>
<text x="8.56" y="611.60" font-size="12.60" fill="#2a2a2a" letter-spacing="0.00">C</text>
<text transform="translate(26.85 611.50) scale(1.0275 1)" font-size="12.50" fill="#2a2a2a" letter-spacing="1.20">2014</text>
<text x="67.17" y="611.50" font-size="12.50" fill="#2a2a2a" letter-spacing="1.07">meteoradar</text>
<text x="206.72" y="611.50" font-size="12.50" fill="#2a2a2a" letter-spacing="1.11">Datenquelle:</text>
<text transform="translate(294.72 611.50) scale(1.0044 1)" font-size="12.50" fill="#2a2a2a" letter-spacing="1.20">MeteoSchweiz</text>
<text x="509.95" y="611.50" font-size="12.50" fill="#2a2a2a" letter-spacing="0.94">Vorhandene</text>
<text transform="translate(592.44 611.50) scale(1.0366 1)" font-size="12.50" fill="#2a2a2a" letter-spacing="1.20">Rohdaten:</text>
<text transform="translate(665.67 611.50) scale(1.1309 1)" font-size="12.50" fill="#2a2a2a" letter-spacing="1.20">144/144</text>
</svg>
</body></html>
